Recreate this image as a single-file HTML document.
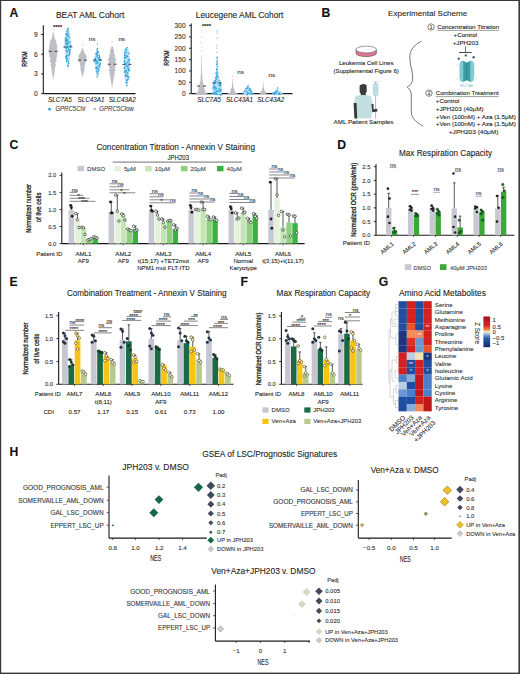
<!DOCTYPE html>
<html><head><meta charset="utf-8"><title>Figure</title>
<style>
html,body{margin:0;padding:0;background:#fff;}
body{width:520px;height:674px;overflow:hidden;}
svg{display:block;font-family:"Liberation Sans", sans-serif;}
</style></head><body>
<svg width="520" height="674" viewBox="0 0 520 674">
<rect width="520" height="674" fill="#fff"/>
<g fill="#231f20">
<rect x="0.00" y="0.00" width="520.00" height="1.00" fill="#3a3a3a"/>
<rect x="0.00" y="0.00" width="1.20" height="674.00" fill="#3a3a3a"/>
<rect x="518.40" y="0.00" width="1.60" height="674.00" fill="#3a3a3a"/>
<rect x="0.00" y="672.60" width="520.00" height="1.40" fill="#3a3a3a"/>
<text x="9.60" y="16.50" font-size="12.2" font-weight="bold" fill="#111" stroke="#111" stroke-width="0.1">A</text>
<text x="90.10" y="17.60" font-size="8.2" text-anchor="middle" textLength="68.4" lengthAdjust="spacingAndGlyphs" stroke="#231f20" stroke-width="0.1">BEAT AML Cohort</text>
<line x1="43.30" y1="25.30" x2="43.30" y2="93.60" stroke="#1a1a1a" stroke-width="1.1"/>
<line x1="41.10" y1="93.60" x2="43.30" y2="93.60" stroke="#1a1a1a" stroke-width="0.9"/>
<text x="37.70" y="95.98" font-size="6.6" text-anchor="end" fill="#333" stroke="#333" stroke-width="0.1">0</text>
<line x1="41.10" y1="73.90" x2="43.30" y2="73.90" stroke="#1a1a1a" stroke-width="0.9"/>
<text x="37.70" y="76.28" font-size="6.6" text-anchor="end" fill="#333" stroke="#333" stroke-width="0.1">3</text>
<line x1="41.10" y1="54.20" x2="43.30" y2="54.20" stroke="#1a1a1a" stroke-width="0.9"/>
<text x="37.70" y="56.58" font-size="6.6" text-anchor="end" fill="#333" stroke="#333" stroke-width="0.1">6</text>
<line x1="41.10" y1="34.50" x2="43.30" y2="34.50" stroke="#1a1a1a" stroke-width="0.9"/>
<text x="37.70" y="36.88" font-size="6.6" text-anchor="end" fill="#333" stroke="#333" stroke-width="0.1">9</text>
<line x1="43.30" y1="93.60" x2="135.50" y2="93.60" stroke="#1a1a1a" stroke-width="1.1"/>
<text x="27.40" y="59.00" font-size="7.6" text-anchor="middle" textLength="15.4" lengthAdjust="spacingAndGlyphs" stroke="#231f20" stroke-width="0.3" transform="rotate(-90 27.40 59.00)">RPKM</text>
<path d="M52.92 31.70L52.92 33.14L52.60 33.30L52.60 34.74L52.19 34.90L52.19 36.34L52.11 36.50L52.11 37.94L51.54 38.10L51.54 39.54L50.31 39.70L50.31 41.14L49.97 41.30L49.97 42.74L49.76 42.90L49.76 44.34L49.30 44.50L49.30 45.94L49.33 46.10L49.33 47.54L49.04 47.70L49.04 49.14L48.85 49.30L48.85 50.74L49.75 50.90L49.75 52.34L48.93 52.50L48.93 53.94L49.35 54.10L49.35 55.54L49.53 55.70L49.53 57.14L50.18 57.30L50.18 58.74L50.26 58.90L50.26 60.34L49.86 60.50L49.86 61.94L51.06 62.10L51.06 63.54L50.38 63.70L50.38 65.14L51.01 65.30L51.01 66.74L51.33 66.90L51.33 68.34L51.66 68.50L51.66 69.94L51.70 70.10L51.70 71.54L51.93 71.70L51.93 73.14L52.14 73.30L52.14 74.74L52.51 74.90L52.51 76.34L52.63 75.80L52.63 77.24L53.77 77.24L53.77 75.80L53.86 76.34L53.86 74.90L54.27 74.74L54.27 73.30L54.50 73.14L54.50 71.70L54.74 71.54L54.74 70.10L54.77 69.94L54.77 68.50L55.04 68.34L55.04 66.90L55.33 66.74L55.33 65.30L55.91 65.14L55.91 63.70L55.36 63.54L55.36 62.10L56.33 61.94L56.33 60.50L56.28 60.34L56.28 58.90L56.34 58.74L56.34 57.30L56.93 57.14L56.93 55.70L57.10 55.54L57.10 54.10L57.34 53.94L57.34 52.50L56.55 52.34L56.55 50.90L57.49 50.74L57.49 49.30L57.14 49.14L57.14 47.70L57.14 47.54L57.14 46.10L57.18 45.94L57.18 44.50L56.49 44.34L56.49 42.90L56.33 42.74L56.33 41.30L55.97 41.14L55.97 39.70L54.86 39.54L54.86 38.10L54.40 37.94L54.40 36.50L54.16 36.34L54.16 34.90L53.81 34.74L53.81 33.30L53.49 33.14L53.49 31.70Z" fill="#bebec6"/>
<circle cx="53.20" cy="29.50" r="0.6" fill="#b4b4bc"/>
<circle cx="53.20" cy="78.50" r="0.6" fill="#b4b4bc"/>
<line x1="48.70" y1="51.40" x2="57.70" y2="51.40" stroke="#333" stroke-width="0.9" stroke-dasharray="3 3"/>
<path d="M67.61 27.50L67.61 28.94L67.06 29.10L67.06 30.54L66.43 30.70L66.43 32.14L66.32 32.30L66.32 33.74L65.27 33.90L65.27 35.34L65.77 35.50L65.77 36.94L65.22 37.10L65.22 38.54L65.23 38.70L65.23 40.14L64.27 40.30L64.27 41.74L64.59 41.90L64.59 43.34L64.38 43.50L64.38 44.94L64.09 45.10L64.09 46.54L64.76 46.70L64.76 48.14L65.14 48.30L65.14 49.74L64.84 49.90L64.84 51.34L65.56 51.50L65.56 52.94L65.26 53.10L65.26 54.54L66.09 54.70L66.09 56.14L65.98 56.30L65.98 57.74L65.66 57.90L65.66 59.34L66.25 59.50L66.25 60.94L66.39 61.10L66.39 62.54L66.76 62.70L66.76 64.14L66.93 64.30L66.93 65.74L67.41 65.90L67.41 67.34L67.47 66.00L67.47 67.44L68.33 67.44L68.33 66.00L68.40 67.34L68.40 65.90L68.84 65.74L68.84 64.30L69.05 64.14L69.05 62.70L69.40 62.54L69.40 61.10L69.56 60.94L69.56 59.50L70.05 59.34L70.05 57.90L69.94 57.74L69.94 56.30L69.89 56.14L69.89 54.70L70.44 54.54L70.44 53.10L70.29 52.94L70.29 51.50L70.80 51.34L70.80 49.90L70.59 49.74L70.59 48.30L71.18 48.14L71.18 46.70L71.74 46.54L71.74 45.10L71.30 44.94L71.30 43.50L71.04 43.34L71.04 41.90L71.29 41.74L71.29 40.30L70.70 40.14L70.70 38.70L70.51 38.54L70.51 37.10L70.21 36.94L70.21 35.50L70.56 35.34L70.56 33.90L69.45 33.74L69.45 32.30L69.34 32.14L69.34 30.70L68.70 30.54L68.70 29.10L68.18 28.94L68.18 27.50Z" fill="#b8e0f5"/>
<circle cx="68.13" cy="28.33" r="0.8" fill="#2ea3dd"/>
<circle cx="67.17" cy="29.76" r="0.8" fill="#2ea3dd"/>
<circle cx="66.70" cy="31.69" r="0.8" fill="#2ea3dd"/>
<circle cx="68.23" cy="30.80" r="0.8" fill="#2ea3dd"/>
<circle cx="67.78" cy="33.39" r="0.8" fill="#2ea3dd"/>
<circle cx="67.39" cy="33.43" r="0.8" fill="#2ea3dd"/>
<circle cx="65.77" cy="34.00" r="0.8" fill="#2ea3dd"/>
<circle cx="68.68" cy="35.44" r="0.8" fill="#2ea3dd"/>
<circle cx="66.79" cy="34.63" r="0.8" fill="#2ea3dd"/>
<circle cx="66.96" cy="36.08" r="0.8" fill="#2ea3dd"/>
<circle cx="66.92" cy="36.09" r="0.8" fill="#2ea3dd"/>
<circle cx="68.40" cy="35.98" r="0.8" fill="#2ea3dd"/>
<circle cx="69.14" cy="35.50" r="0.5" fill="#e6f5fc"/>
<circle cx="65.29" cy="38.01" r="0.8" fill="#2ea3dd"/>
<circle cx="69.20" cy="37.60" r="0.8" fill="#2ea3dd"/>
<circle cx="66.37" cy="38.39" r="0.8" fill="#2ea3dd"/>
<circle cx="66.39" cy="37.10" r="0.5" fill="#e6f5fc"/>
<circle cx="67.52" cy="39.82" r="0.8" fill="#2ea3dd"/>
<circle cx="65.58" cy="39.22" r="0.8" fill="#2ea3dd"/>
<circle cx="66.93" cy="40.03" r="0.8" fill="#2ea3dd"/>
<circle cx="69.71" cy="38.70" r="0.5" fill="#e6f5fc"/>
<circle cx="65.88" cy="40.84" r="0.8" fill="#2ea3dd"/>
<circle cx="68.82" cy="41.72" r="0.8" fill="#2ea3dd"/>
<circle cx="67.60" cy="40.66" r="0.8" fill="#2ea3dd"/>
<circle cx="65.59" cy="41.15" r="0.8" fill="#2ea3dd"/>
<circle cx="69.54" cy="40.30" r="0.5" fill="#e6f5fc"/>
<circle cx="70.00" cy="42.19" r="0.8" fill="#2ea3dd"/>
<circle cx="66.53" cy="43.19" r="0.8" fill="#2ea3dd"/>
<circle cx="68.78" cy="43.19" r="0.8" fill="#2ea3dd"/>
<circle cx="66.94" cy="42.11" r="0.8" fill="#2ea3dd"/>
<circle cx="69.49" cy="41.90" r="0.5" fill="#e6f5fc"/>
<circle cx="66.46" cy="44.05" r="0.8" fill="#2ea3dd"/>
<circle cx="67.38" cy="44.17" r="0.8" fill="#2ea3dd"/>
<circle cx="67.33" cy="44.97" r="0.8" fill="#2ea3dd"/>
<circle cx="65.73" cy="43.51" r="0.8" fill="#2ea3dd"/>
<circle cx="70.33" cy="46.68" r="0.8" fill="#2ea3dd"/>
<circle cx="67.48" cy="46.62" r="0.8" fill="#2ea3dd"/>
<circle cx="70.63" cy="45.46" r="0.8" fill="#2ea3dd"/>
<circle cx="69.47" cy="46.44" r="0.8" fill="#2ea3dd"/>
<circle cx="68.02" cy="47.16" r="0.8" fill="#2ea3dd"/>
<circle cx="66.92" cy="47.06" r="0.8" fill="#2ea3dd"/>
<circle cx="65.23" cy="47.64" r="0.8" fill="#2ea3dd"/>
<circle cx="66.58" cy="48.00" r="0.8" fill="#2ea3dd"/>
<circle cx="70.08" cy="46.70" r="0.5" fill="#e6f5fc"/>
<circle cx="69.06" cy="49.78" r="0.8" fill="#2ea3dd"/>
<circle cx="70.27" cy="49.74" r="0.8" fill="#2ea3dd"/>
<circle cx="68.36" cy="48.32" r="0.8" fill="#2ea3dd"/>
<circle cx="66.01" cy="50.38" r="0.8" fill="#2ea3dd"/>
<circle cx="68.84" cy="50.74" r="0.8" fill="#2ea3dd"/>
<circle cx="67.40" cy="51.40" r="0.8" fill="#2ea3dd"/>
<circle cx="67.05" cy="51.90" r="0.8" fill="#2ea3dd"/>
<circle cx="69.84" cy="52.26" r="0.8" fill="#2ea3dd"/>
<circle cx="69.42" cy="52.06" r="0.8" fill="#2ea3dd"/>
<circle cx="68.06" cy="51.50" r="0.5" fill="#e6f5fc"/>
<circle cx="69.47" cy="53.37" r="0.8" fill="#2ea3dd"/>
<circle cx="69.35" cy="54.57" r="0.8" fill="#2ea3dd"/>
<circle cx="69.42" cy="54.42" r="0.8" fill="#2ea3dd"/>
<circle cx="68.46" cy="53.10" r="0.5" fill="#e6f5fc"/>
<circle cx="69.55" cy="54.78" r="0.8" fill="#2ea3dd"/>
<circle cx="66.86" cy="55.13" r="0.8" fill="#2ea3dd"/>
<circle cx="68.02" cy="55.38" r="0.8" fill="#2ea3dd"/>
<circle cx="69.00" cy="54.70" r="0.5" fill="#e6f5fc"/>
<circle cx="65.83" cy="56.39" r="0.8" fill="#2ea3dd"/>
<circle cx="66.35" cy="56.50" r="0.8" fill="#2ea3dd"/>
<circle cx="66.11" cy="57.86" r="0.8" fill="#2ea3dd"/>
<circle cx="66.35" cy="58.70" r="0.8" fill="#2ea3dd"/>
<circle cx="67.21" cy="58.40" r="0.8" fill="#2ea3dd"/>
<circle cx="68.38" cy="57.90" r="0.5" fill="#e6f5fc"/>
<circle cx="68.19" cy="60.08" r="0.8" fill="#2ea3dd"/>
<circle cx="66.87" cy="60.03" r="0.8" fill="#2ea3dd"/>
<circle cx="68.06" cy="59.50" r="0.5" fill="#e6f5fc"/>
<circle cx="68.50" cy="61.71" r="0.8" fill="#2ea3dd"/>
<circle cx="66.73" cy="61.39" r="0.8" fill="#2ea3dd"/>
<circle cx="68.15" cy="61.10" r="0.5" fill="#e6f5fc"/>
<circle cx="68.52" cy="63.31" r="0.8" fill="#2ea3dd"/>
<circle cx="68.56" cy="63.70" r="0.8" fill="#2ea3dd"/>
<circle cx="67.66" cy="62.70" r="0.5" fill="#e6f5fc"/>
<circle cx="67.89" cy="65.42" r="0.8" fill="#2ea3dd"/>
<circle cx="68.17" cy="64.30" r="0.5" fill="#e6f5fc"/>
<circle cx="67.86" cy="66.29" r="0.8" fill="#2ea3dd"/>
<circle cx="68.09" cy="66.11" r="0.8" fill="#2ea3dd"/>
<circle cx="67.84" cy="66.00" r="0.5" fill="#e6f5fc"/>
<line x1="63.40" y1="46.90" x2="72.40" y2="46.90" stroke="#333" stroke-width="0.9" stroke-dasharray="3 3"/>
<path d="M82.12 47.70L82.12 49.14L81.60 49.30L81.60 50.74L80.70 50.90L80.70 52.34L80.25 52.50L80.25 53.94L79.06 54.10L79.06 55.54L78.43 55.70L78.43 57.14L78.67 57.30L78.67 58.74L78.74 58.90L78.74 60.34L78.68 60.50L78.68 61.94L79.59 62.10L79.59 63.54L80.00 63.70L80.00 65.14L80.34 65.30L80.34 66.74L80.68 66.90L80.68 68.34L80.41 68.50L80.41 69.94L80.78 70.10L80.78 71.54L81.15 71.70L81.15 73.14L81.60 73.30L81.60 74.74L82.05 74.90L82.05 76.34L82.01 75.40L82.01 76.84L83.00 76.84L83.00 75.40L82.99 76.34L82.99 74.90L83.42 74.74L83.42 73.30L83.86 73.14L83.86 71.70L84.19 71.54L84.19 70.10L84.47 69.94L84.47 68.50L84.29 68.34L84.29 66.90L84.85 66.74L84.85 65.30L85.01 65.14L85.01 63.70L85.62 63.54L85.62 62.10L86.12 61.94L86.12 60.50L86.11 60.34L86.11 58.90L86.35 58.74L86.35 57.30L86.54 57.14L86.54 55.70L85.90 55.54L85.90 54.10L84.68 53.94L84.68 52.50L84.22 52.34L84.22 50.90L83.44 50.74L83.44 49.30L82.88 49.14L82.88 47.70Z" fill="#bebec6"/>
<circle cx="82.50" cy="44.80" r="0.6" fill="#b4b4bc"/>
<line x1="78.00" y1="60.10" x2="87.00" y2="60.10" stroke="#333" stroke-width="0.9" stroke-dasharray="3 3"/>
<path d="M97.24 48.30L97.24 49.74L96.19 49.90L96.19 51.34L95.86 51.50L95.86 52.94L94.85 53.10L94.85 54.54L95.10 54.70L95.10 56.14L94.34 56.30L94.34 57.74L94.55 57.90L94.55 59.34L94.45 59.50L94.45 60.94L94.51 61.10L94.51 62.54L94.59 62.70L94.59 64.14L94.91 64.30L94.91 65.74L95.47 65.90L95.47 67.34L95.11 67.50L95.11 68.94L95.64 69.10L95.64 70.54L95.89 70.70L95.89 72.14L96.52 72.30L96.52 73.74L96.56 73.90L96.56 75.34L96.99 75.50L96.99 76.94L97.05 76.00L97.05 77.44L97.93 77.44L97.93 76.00L98.01 76.94L98.01 75.50L98.45 75.34L98.45 73.90L98.48 73.74L98.48 72.30L99.15 72.14L99.15 70.70L99.35 70.54L99.35 69.10L99.87 68.94L99.87 67.50L99.65 67.34L99.65 65.90L100.17 65.74L100.17 64.30L100.54 64.14L100.54 62.70L100.39 62.54L100.39 61.10L100.54 60.94L100.54 59.50L100.44 59.34L100.44 57.90L100.70 57.74L100.70 56.30L99.91 56.14L99.91 54.70L100.03 54.54L100.03 53.10L99.18 52.94L99.18 51.50L98.73 51.34L98.73 49.90L97.78 49.74L97.78 48.30Z" fill="#b8e0f5"/>
<circle cx="97.35" cy="48.62" r="0.8" fill="#2ea3dd"/>
<circle cx="97.10" cy="50.27" r="0.8" fill="#2ea3dd"/>
<circle cx="97.91" cy="51.43" r="0.8" fill="#2ea3dd"/>
<circle cx="97.89" cy="49.90" r="0.5" fill="#e6f5fc"/>
<circle cx="97.19" cy="52.87" r="0.8" fill="#2ea3dd"/>
<circle cx="97.80" cy="51.93" r="0.8" fill="#2ea3dd"/>
<circle cx="96.03" cy="51.50" r="0.5" fill="#e6f5fc"/>
<circle cx="97.41" cy="53.71" r="0.8" fill="#2ea3dd"/>
<circle cx="96.01" cy="53.68" r="0.8" fill="#2ea3dd"/>
<circle cx="96.69" cy="54.34" r="0.8" fill="#2ea3dd"/>
<circle cx="99.45" cy="53.10" r="0.5" fill="#e6f5fc"/>
<circle cx="97.39" cy="55.66" r="0.8" fill="#2ea3dd"/>
<circle cx="97.32" cy="56.04" r="0.8" fill="#2ea3dd"/>
<circle cx="99.29" cy="55.59" r="0.8" fill="#2ea3dd"/>
<circle cx="98.58" cy="54.70" r="0.5" fill="#e6f5fc"/>
<circle cx="99.61" cy="56.94" r="0.8" fill="#2ea3dd"/>
<circle cx="98.88" cy="57.84" r="0.8" fill="#2ea3dd"/>
<circle cx="97.31" cy="56.67" r="0.8" fill="#2ea3dd"/>
<circle cx="98.63" cy="56.30" r="0.5" fill="#e6f5fc"/>
<circle cx="98.58" cy="59.43" r="0.8" fill="#2ea3dd"/>
<circle cx="99.67" cy="58.29" r="0.8" fill="#2ea3dd"/>
<circle cx="95.60" cy="58.31" r="0.8" fill="#2ea3dd"/>
<circle cx="95.58" cy="59.03" r="0.8" fill="#2ea3dd"/>
<circle cx="100.03" cy="59.91" r="0.8" fill="#2ea3dd"/>
<circle cx="99.81" cy="60.00" r="0.8" fill="#2ea3dd"/>
<circle cx="97.01" cy="60.67" r="0.8" fill="#2ea3dd"/>
<circle cx="94.88" cy="59.65" r="0.8" fill="#2ea3dd"/>
<circle cx="96.22" cy="61.67" r="0.8" fill="#2ea3dd"/>
<circle cx="97.99" cy="62.18" r="0.8" fill="#2ea3dd"/>
<circle cx="94.47" cy="61.64" r="0.8" fill="#2ea3dd"/>
<circle cx="97.11" cy="61.88" r="0.8" fill="#2ea3dd"/>
<circle cx="97.96" cy="61.10" r="0.5" fill="#e6f5fc"/>
<circle cx="100.12" cy="63.33" r="0.8" fill="#2ea3dd"/>
<circle cx="97.76" cy="62.89" r="0.8" fill="#2ea3dd"/>
<circle cx="96.20" cy="63.76" r="0.8" fill="#2ea3dd"/>
<circle cx="99.45" cy="62.70" r="0.5" fill="#e6f5fc"/>
<circle cx="99.68" cy="64.46" r="0.8" fill="#2ea3dd"/>
<circle cx="99.85" cy="64.90" r="0.8" fill="#2ea3dd"/>
<circle cx="98.95" cy="65.51" r="0.8" fill="#2ea3dd"/>
<circle cx="98.32" cy="64.30" r="0.5" fill="#e6f5fc"/>
<circle cx="98.24" cy="67.19" r="0.8" fill="#2ea3dd"/>
<circle cx="96.38" cy="67.11" r="0.8" fill="#2ea3dd"/>
<circle cx="99.70" cy="66.98" r="0.8" fill="#2ea3dd"/>
<circle cx="95.87" cy="68.29" r="0.8" fill="#2ea3dd"/>
<circle cx="96.88" cy="68.65" r="0.8" fill="#2ea3dd"/>
<circle cx="98.25" cy="68.41" r="0.8" fill="#2ea3dd"/>
<circle cx="98.04" cy="67.50" r="0.5" fill="#e6f5fc"/>
<circle cx="97.98" cy="69.39" r="0.8" fill="#2ea3dd"/>
<circle cx="98.92" cy="70.15" r="0.8" fill="#2ea3dd"/>
<circle cx="98.87" cy="69.10" r="0.5" fill="#e6f5fc"/>
<circle cx="96.43" cy="71.23" r="0.8" fill="#2ea3dd"/>
<circle cx="98.16" cy="71.66" r="0.8" fill="#2ea3dd"/>
<circle cx="97.84" cy="73.03" r="0.8" fill="#2ea3dd"/>
<circle cx="97.06" cy="72.58" r="0.8" fill="#2ea3dd"/>
<circle cx="97.94" cy="72.30" r="0.5" fill="#e6f5fc"/>
<circle cx="97.92" cy="74.77" r="0.8" fill="#2ea3dd"/>
<circle cx="97.36" cy="75.93" r="0.8" fill="#2ea3dd"/>
<circle cx="97.83" cy="75.50" r="0.5" fill="#e6f5fc"/>
<circle cx="97.13" cy="76.81" r="0.8" fill="#2ea3dd"/>
<circle cx="97.69" cy="76.00" r="0.5" fill="#e6f5fc"/>
<circle cx="97.50" cy="44.20" r="0.6" fill="#2ea3dd"/>
<line x1="93.00" y1="60.10" x2="102.00" y2="60.10" stroke="#333" stroke-width="0.9" stroke-dasharray="3 3"/>
<path d="M111.80 45.40L111.80 46.84L111.22 47.00L111.22 48.44L110.49 48.60L110.49 50.04L110.01 50.20L110.01 51.64L110.17 51.80L110.17 53.24L110.05 53.40L110.05 54.84L108.98 55.00L108.98 56.44L109.43 56.60L109.43 58.04L108.29 58.20L108.29 59.64L108.14 59.80L108.14 61.24L109.03 61.40L109.03 62.84L108.99 63.00L108.99 64.44L108.52 64.60L108.52 66.04L109.17 66.20L109.17 67.64L109.68 67.80L109.68 69.24L108.73 69.40L108.73 70.84L109.65 71.00L109.65 72.44L109.68 72.60L109.68 74.04L109.56 74.20L109.56 75.64L110.46 75.80L110.46 77.24L110.56 77.40L110.56 78.84L110.67 79.00L110.67 80.44L110.93 80.60L110.93 82.04L111.29 82.20L111.29 83.64L111.52 83.80L111.52 85.24L111.69 85.20L111.69 86.64L112.49 86.64L112.49 85.20L112.67 85.24L112.67 83.80L112.91 83.64L112.91 82.20L113.26 82.04L113.26 80.60L113.45 80.44L113.45 79.00L113.66 78.84L113.66 77.40L113.84 77.24L113.84 75.80L114.58 75.64L114.58 74.20L114.53 74.04L114.53 72.60L114.59 72.44L114.59 71.00L115.49 70.84L115.49 69.40L114.75 69.24L114.75 67.80L115.19 67.64L115.19 66.20L115.57 66.04L115.57 64.60L115.32 64.44L115.32 63.00L115.25 62.84L115.25 61.40L116.01 61.24L116.01 59.80L115.93 59.64L115.93 58.20L114.84 58.04L114.84 56.60L115.08 56.44L115.08 55.00L114.31 54.84L114.31 53.40L113.99 53.24L113.99 51.80L114.06 51.64L114.06 50.20L113.66 50.04L113.66 48.60L112.99 48.44L112.99 47.00L112.40 46.84L112.40 45.40Z" fill="#bebec6"/>
<circle cx="112.10" cy="41.90" r="0.6" fill="#b4b4bc"/>
<line x1="107.60" y1="64.20" x2="116.60" y2="64.20" stroke="#333" stroke-width="0.9" stroke-dasharray="3 3"/>
<path d="M126.58 46.50L126.58 47.94L125.57 48.10L125.57 49.54L124.43 49.70L124.43 51.14L125.06 51.30L125.06 52.74L124.34 52.90L124.34 54.34L124.46 54.50L124.46 55.94L124.73 56.10L124.73 57.54L123.58 57.70L123.58 59.14L123.60 59.30L123.60 60.74L124.55 60.90L124.55 62.34L123.93 62.50L123.93 63.94L123.78 64.10L123.78 65.54L124.27 65.70L124.27 67.14L123.55 67.30L123.55 68.74L124.26 68.90L124.26 70.34L124.27 70.50L124.27 71.94L124.87 72.10L124.87 73.54L124.83 73.70L124.83 75.14L124.67 75.30L124.67 76.74L124.80 76.90L124.80 78.34L124.94 78.50L124.94 79.94L125.47 80.10L125.47 81.54L125.87 81.70L125.87 83.14L126.06 83.30L126.06 84.74L126.52 84.60L126.52 86.04L127.28 86.04L127.28 84.60L127.73 84.74L127.73 83.30L127.91 83.14L127.91 81.70L128.37 81.54L128.37 80.10L128.80 79.94L128.80 78.50L128.98 78.34L128.98 76.90L129.18 76.74L129.18 75.30L128.96 75.14L128.96 73.70L128.94 73.54L128.94 72.10L129.44 71.94L129.44 70.50L129.62 70.34L129.62 68.90L130.23 68.74L130.23 67.30L129.65 67.14L129.65 65.70L130.03 65.54L130.03 64.10L129.96 63.94L129.96 62.50L129.44 62.34L129.44 60.90L130.15 60.74L130.15 59.30L130.06 59.14L130.06 57.70L129.19 57.54L129.19 56.10L129.31 55.94L129.31 54.50L129.33 54.34L129.33 52.90L128.88 52.74L128.88 51.30L129.35 51.14L129.35 49.70L128.24 49.54L128.24 48.10L127.23 47.94L127.23 46.50Z" fill="#b8e0f5"/>
<circle cx="126.92" cy="47.45" r="0.8" fill="#2ea3dd"/>
<circle cx="126.62" cy="46.50" r="0.5" fill="#e6f5fc"/>
<circle cx="126.12" cy="49.35" r="0.8" fill="#2ea3dd"/>
<circle cx="125.94" cy="48.84" r="0.8" fill="#2ea3dd"/>
<circle cx="126.22" cy="48.10" r="0.5" fill="#e6f5fc"/>
<circle cx="125.58" cy="50.35" r="0.8" fill="#2ea3dd"/>
<circle cx="125.57" cy="49.74" r="0.8" fill="#2ea3dd"/>
<circle cx="125.34" cy="49.97" r="0.8" fill="#2ea3dd"/>
<circle cx="125.36" cy="49.70" r="0.5" fill="#e6f5fc"/>
<circle cx="124.80" cy="52.02" r="0.8" fill="#2ea3dd"/>
<circle cx="126.49" cy="52.43" r="0.8" fill="#2ea3dd"/>
<circle cx="124.93" cy="51.95" r="0.8" fill="#2ea3dd"/>
<circle cx="125.08" cy="51.30" r="0.5" fill="#e6f5fc"/>
<circle cx="129.12" cy="53.25" r="0.8" fill="#2ea3dd"/>
<circle cx="124.96" cy="53.66" r="0.8" fill="#2ea3dd"/>
<circle cx="125.30" cy="53.90" r="0.8" fill="#2ea3dd"/>
<circle cx="125.33" cy="52.90" r="0.5" fill="#e6f5fc"/>
<circle cx="124.59" cy="55.66" r="0.8" fill="#2ea3dd"/>
<circle cx="125.74" cy="55.76" r="0.8" fill="#2ea3dd"/>
<circle cx="126.72" cy="55.99" r="0.8" fill="#2ea3dd"/>
<circle cx="125.77" cy="54.50" r="0.5" fill="#e6f5fc"/>
<circle cx="125.65" cy="57.40" r="0.8" fill="#2ea3dd"/>
<circle cx="127.59" cy="56.65" r="0.8" fill="#2ea3dd"/>
<circle cx="124.73" cy="57.19" r="0.8" fill="#2ea3dd"/>
<circle cx="127.40" cy="57.71" r="0.8" fill="#2ea3dd"/>
<circle cx="124.34" cy="57.84" r="0.8" fill="#2ea3dd"/>
<circle cx="125.10" cy="57.76" r="0.8" fill="#2ea3dd"/>
<circle cx="127.64" cy="57.70" r="0.5" fill="#e6f5fc"/>
<circle cx="129.12" cy="59.62" r="0.8" fill="#2ea3dd"/>
<circle cx="129.53" cy="60.06" r="0.8" fill="#2ea3dd"/>
<circle cx="128.59" cy="60.77" r="0.8" fill="#2ea3dd"/>
<circle cx="124.29" cy="61.39" r="0.8" fill="#2ea3dd"/>
<circle cx="127.50" cy="62.41" r="0.8" fill="#2ea3dd"/>
<circle cx="124.59" cy="61.37" r="0.8" fill="#2ea3dd"/>
<circle cx="124.74" cy="63.12" r="0.8" fill="#2ea3dd"/>
<circle cx="125.97" cy="63.59" r="0.8" fill="#2ea3dd"/>
<circle cx="129.30" cy="62.78" r="0.8" fill="#2ea3dd"/>
<circle cx="128.21" cy="65.44" r="0.8" fill="#2ea3dd"/>
<circle cx="127.20" cy="65.58" r="0.8" fill="#2ea3dd"/>
<circle cx="126.13" cy="64.76" r="0.8" fill="#2ea3dd"/>
<circle cx="128.27" cy="64.10" r="0.5" fill="#e6f5fc"/>
<circle cx="126.79" cy="66.13" r="0.8" fill="#2ea3dd"/>
<circle cx="125.05" cy="66.85" r="0.8" fill="#2ea3dd"/>
<circle cx="127.49" cy="66.84" r="0.8" fill="#2ea3dd"/>
<circle cx="126.84" cy="65.70" r="0.5" fill="#e6f5fc"/>
<circle cx="125.00" cy="68.44" r="0.8" fill="#2ea3dd"/>
<circle cx="124.28" cy="68.05" r="0.8" fill="#2ea3dd"/>
<circle cx="128.32" cy="68.38" r="0.8" fill="#2ea3dd"/>
<circle cx="125.64" cy="67.30" r="0.5" fill="#e6f5fc"/>
<circle cx="128.74" cy="69.93" r="0.8" fill="#2ea3dd"/>
<circle cx="128.93" cy="70.30" r="0.8" fill="#2ea3dd"/>
<circle cx="126.63" cy="70.34" r="0.8" fill="#2ea3dd"/>
<circle cx="126.03" cy="71.09" r="0.8" fill="#2ea3dd"/>
<circle cx="124.66" cy="71.14" r="0.8" fill="#2ea3dd"/>
<circle cx="129.29" cy="70.67" r="0.8" fill="#2ea3dd"/>
<circle cx="124.91" cy="72.23" r="0.8" fill="#2ea3dd"/>
<circle cx="127.66" cy="72.49" r="0.8" fill="#2ea3dd"/>
<circle cx="124.60" cy="72.34" r="0.8" fill="#2ea3dd"/>
<circle cx="127.31" cy="73.72" r="0.8" fill="#2ea3dd"/>
<circle cx="125.62" cy="75.25" r="0.8" fill="#2ea3dd"/>
<circle cx="125.57" cy="74.60" r="0.8" fill="#2ea3dd"/>
<circle cx="128.07" cy="73.70" r="0.5" fill="#e6f5fc"/>
<circle cx="127.36" cy="76.56" r="0.8" fill="#2ea3dd"/>
<circle cx="127.06" cy="75.60" r="0.8" fill="#2ea3dd"/>
<circle cx="125.48" cy="75.43" r="0.8" fill="#2ea3dd"/>
<circle cx="125.32" cy="76.94" r="0.8" fill="#2ea3dd"/>
<circle cx="128.80" cy="77.22" r="0.8" fill="#2ea3dd"/>
<circle cx="128.50" cy="77.04" r="0.8" fill="#2ea3dd"/>
<circle cx="125.91" cy="76.90" r="0.5" fill="#e6f5fc"/>
<circle cx="128.09" cy="79.48" r="0.8" fill="#2ea3dd"/>
<circle cx="127.41" cy="79.72" r="0.8" fill="#2ea3dd"/>
<circle cx="126.46" cy="81.06" r="0.8" fill="#2ea3dd"/>
<circle cx="126.74" cy="80.28" r="0.8" fill="#2ea3dd"/>
<circle cx="127.10" cy="83.00" r="0.8" fill="#2ea3dd"/>
<circle cx="126.27" cy="82.56" r="0.8" fill="#2ea3dd"/>
<circle cx="127.33" cy="81.70" r="0.5" fill="#e6f5fc"/>
<circle cx="126.31" cy="83.85" r="0.8" fill="#2ea3dd"/>
<circle cx="126.38" cy="83.30" r="0.5" fill="#e6f5fc"/>
<circle cx="126.94" cy="85.78" r="0.8" fill="#2ea3dd"/>
<circle cx="127.00" cy="84.60" r="0.5" fill="#e6f5fc"/>
<line x1="122.40" y1="64.40" x2="131.40" y2="64.40" stroke="#333" stroke-width="0.9" stroke-dasharray="3 3"/>
<text x="57.50" y="28.60" font-size="6.2" text-anchor="middle" font-weight="bold" textLength="9" lengthAdjust="spacingAndGlyphs" stroke="#231f20" stroke-width="0.1">****</text>
<text x="92.00" y="40.60" font-size="6.2" text-anchor="middle" fill="#333" stroke="#333" stroke-width="0.1">ns</text>
<text x="121.70" y="40.60" font-size="6.2" text-anchor="middle" fill="#333" stroke="#333" stroke-width="0.1">ns</text>
<text x="48.10" y="102.00" font-size="6.4" font-style="italic" textLength="23.6" lengthAdjust="spacingAndGlyphs" stroke="#231f20" stroke-width="0.1">SLC7A5</text>
<text x="77.50" y="102.00" font-size="6.4" font-style="italic" textLength="26.9" lengthAdjust="spacingAndGlyphs" stroke="#231f20" stroke-width="0.1">SLC43A1</text>
<text x="108.80" y="102.00" font-size="6.4" font-style="italic" textLength="27.0" lengthAdjust="spacingAndGlyphs" stroke="#231f20" stroke-width="0.1">SLC43A2</text>
<circle cx="49.60" cy="109.20" r="1.4" fill="#2ea3dd"/>
<text x="55.40" y="110.90" font-size="6.3" font-style="italic" fill="#444" textLength="29.8" lengthAdjust="spacingAndGlyphs" stroke="#444" stroke-width="0.1">GPRC5Chi</text>
<circle cx="94.80" cy="109.20" r="1.4" fill="#bebec6"/>
<text x="99.20" y="110.90" font-size="6.3" font-style="italic" fill="#444" textLength="34.6" lengthAdjust="spacingAndGlyphs" stroke="#444" stroke-width="0.1">GPRC5Clow</text>
<text x="239.60" y="17.60" font-size="8.2" text-anchor="middle" textLength="87.7" lengthAdjust="spacingAndGlyphs" stroke="#231f20" stroke-width="0.1">Leucegene AML Cohort</text>
<line x1="191.20" y1="23.50" x2="191.20" y2="93.60" stroke="#1a1a1a" stroke-width="1.1"/>
<line x1="189.00" y1="93.60" x2="191.20" y2="93.60" stroke="#1a1a1a" stroke-width="0.9"/>
<text x="185.60" y="95.98" font-size="6.6" text-anchor="end" fill="#333" stroke="#333" stroke-width="0.1">0</text>
<line x1="189.00" y1="82.27" x2="191.20" y2="82.27" stroke="#1a1a1a" stroke-width="0.9"/>
<text x="185.60" y="84.64" font-size="6.6" text-anchor="end" fill="#333" stroke="#333" stroke-width="0.1">50</text>
<line x1="189.00" y1="70.93" x2="191.20" y2="70.93" stroke="#1a1a1a" stroke-width="0.9"/>
<text x="185.60" y="73.31" font-size="6.6" text-anchor="end" fill="#333" stroke="#333" stroke-width="0.1">100</text>
<line x1="189.00" y1="59.60" x2="191.20" y2="59.60" stroke="#1a1a1a" stroke-width="0.9"/>
<text x="185.60" y="61.98" font-size="6.6" text-anchor="end" fill="#333" stroke="#333" stroke-width="0.1">150</text>
<line x1="189.00" y1="48.27" x2="191.20" y2="48.27" stroke="#1a1a1a" stroke-width="0.9"/>
<text x="185.60" y="50.64" font-size="6.6" text-anchor="end" fill="#333" stroke="#333" stroke-width="0.1">200</text>
<line x1="189.00" y1="36.93" x2="191.20" y2="36.93" stroke="#1a1a1a" stroke-width="0.9"/>
<text x="185.60" y="39.31" font-size="6.6" text-anchor="end" fill="#333" stroke="#333" stroke-width="0.1">250</text>
<line x1="189.00" y1="25.60" x2="191.20" y2="25.60" stroke="#1a1a1a" stroke-width="0.9"/>
<text x="185.60" y="27.98" font-size="6.6" text-anchor="end" fill="#333" stroke="#333" stroke-width="0.1">300</text>
<line x1="191.20" y1="93.60" x2="292.50" y2="93.60" stroke="#1a1a1a" stroke-width="1.1"/>
<text x="168.60" y="58.00" font-size="7.6" text-anchor="middle" textLength="15.4" lengthAdjust="spacingAndGlyphs" stroke="#231f20" stroke-width="0.3" transform="rotate(-90 168.60 58.00)">RPKM</text>
<path d="M201.24 55.70L201.24 57.14L201.26 57.30L201.26 58.74L201.25 58.90L201.25 60.34L201.27 60.50L201.27 61.94L201.25 62.10L201.25 63.54L201.15 63.70L201.15 65.14L201.09 65.30L201.09 66.74L201.06 66.90L201.06 68.34L201.11 68.50L201.11 69.94L200.97 70.10L200.97 71.54L201.02 71.70L201.02 73.14L200.95 73.30L200.95 74.74L200.69 74.90L200.69 76.34L200.56 76.50L200.56 77.94L200.73 78.10L200.73 79.54L200.45 79.70L200.45 81.14L200.04 81.30L200.04 82.74L199.60 82.90L199.60 84.34L199.43 84.50L199.43 85.94L198.58 86.10L198.58 87.54L198.67 87.70L198.67 89.14L198.12 89.30L198.12 90.74L198.02 90.90L198.02 92.34L196.11 92.50L196.11 93.94L195.36 93.30L195.36 94.74L207.65 94.74L207.65 93.30L206.86 93.94L206.86 92.50L205.01 92.34L205.01 90.90L204.92 90.74L204.92 89.30L204.27 89.14L204.27 87.70L204.42 87.54L204.42 86.10L203.55 85.94L203.55 84.50L203.32 84.34L203.32 82.90L202.88 82.74L202.88 81.30L202.57 81.14L202.57 79.70L202.33 79.54L202.33 78.10L202.38 77.94L202.38 76.50L202.27 76.34L202.27 74.90L202.08 74.74L202.08 73.30L201.99 73.14L201.99 71.70L202.03 71.54L202.03 70.10L201.91 69.94L201.91 68.50L201.93 68.34L201.93 66.90L201.89 66.74L201.89 65.30L201.85 65.14L201.85 63.70L201.77 63.54L201.77 62.10L201.73 61.94L201.73 60.50L201.75 60.34L201.75 58.90L201.75 58.74L201.75 57.30L201.75 57.14L201.75 55.70Z" fill="#bebec6"/>
<circle cx="201.50" cy="30.00" r="0.6" fill="#b4b4bc"/>
<circle cx="201.50" cy="37.00" r="0.6" fill="#b4b4bc"/>
<circle cx="201.00" cy="42.00" r="0.6" fill="#b4b4bc"/>
<circle cx="201.90" cy="47.00" r="0.6" fill="#b4b4bc"/>
<circle cx="201.50" cy="51.00" r="0.6" fill="#b4b4bc"/>
<line x1="197.00" y1="86.00" x2="206.00" y2="86.00" stroke="#333" stroke-width="0.9" stroke-dasharray="3 3"/>
<path d="M216.71 56.40L216.71 57.84L216.76 58.00L216.76 59.44L216.67 59.60L216.67 61.04L216.61 61.20L216.61 62.64L216.49 62.80L216.49 64.24L216.51 64.40L216.51 65.84L216.35 66.00L216.35 67.44L216.44 67.60L216.44 69.04L216.43 69.20L216.43 70.64L216.11 70.80L216.11 72.24L216.14 72.40L216.14 73.84L215.95 74.00L215.95 75.44L215.61 75.60L215.61 77.04L214.83 77.20L214.83 78.64L215.03 78.80L215.03 80.24L214.65 80.40L214.65 81.84L213.71 82.00L213.71 83.44L213.09 83.60L213.09 85.04L213.28 85.20L213.28 86.64L212.15 86.80L212.15 88.24L213.17 88.40L213.17 89.84L212.76 90.00L212.76 91.44L212.17 91.60L212.17 93.04L211.81 93.20L211.81 94.64L213.24 93.30L213.24 94.74L221.03 94.74L221.03 93.30L221.95 94.64L221.95 93.20L221.93 93.04L221.93 91.60L221.33 91.44L221.33 90.00L220.75 89.84L220.75 88.40L221.70 88.24L221.70 86.80L220.70 86.64L220.70 85.20L220.74 85.04L220.74 83.60L220.20 83.44L220.20 82.00L219.47 81.84L219.47 80.40L219.00 80.24L219.00 78.80L219.20 78.64L219.20 77.20L218.45 77.04L218.45 75.60L218.11 75.44L218.11 74.00L217.85 73.84L217.85 72.40L217.89 72.24L217.89 70.80L217.58 70.64L217.58 69.20L217.59 69.04L217.59 67.60L217.62 67.44L217.62 66.00L217.51 65.84L217.51 64.40L217.49 64.24L217.49 62.80L217.38 62.64L217.38 61.20L217.33 61.04L217.33 59.60L217.25 59.44L217.25 58.00L217.27 57.84L217.27 56.40Z" fill="#b8e0f5"/>
<circle cx="217.14" cy="57.21" r="0.8" fill="#2ea3dd"/>
<circle cx="217.03" cy="58.45" r="0.8" fill="#2ea3dd"/>
<circle cx="216.76" cy="58.00" r="0.5" fill="#e6f5fc"/>
<circle cx="217.09" cy="61.04" r="0.8" fill="#2ea3dd"/>
<circle cx="216.98" cy="62.26" r="0.8" fill="#2ea3dd"/>
<circle cx="217.27" cy="63.76" r="0.8" fill="#2ea3dd"/>
<circle cx="217.01" cy="62.80" r="0.5" fill="#e6f5fc"/>
<circle cx="216.67" cy="64.69" r="0.8" fill="#2ea3dd"/>
<circle cx="217.55" cy="66.88" r="0.8" fill="#2ea3dd"/>
<circle cx="216.85" cy="66.00" r="0.5" fill="#e6f5fc"/>
<circle cx="216.94" cy="68.88" r="0.8" fill="#2ea3dd"/>
<circle cx="217.50" cy="67.60" r="0.5" fill="#e6f5fc"/>
<circle cx="216.49" cy="69.70" r="0.8" fill="#2ea3dd"/>
<circle cx="216.85" cy="72.16" r="0.8" fill="#2ea3dd"/>
<circle cx="217.87" cy="73.38" r="0.8" fill="#2ea3dd"/>
<circle cx="216.05" cy="73.32" r="0.8" fill="#2ea3dd"/>
<circle cx="216.97" cy="74.45" r="0.8" fill="#2ea3dd"/>
<circle cx="217.50" cy="75.46" r="0.8" fill="#2ea3dd"/>
<circle cx="217.35" cy="74.00" r="0.5" fill="#e6f5fc"/>
<circle cx="216.64" cy="76.42" r="0.8" fill="#2ea3dd"/>
<circle cx="218.10" cy="77.14" r="0.8" fill="#2ea3dd"/>
<circle cx="215.85" cy="78.67" r="0.8" fill="#2ea3dd"/>
<circle cx="215.80" cy="77.81" r="0.8" fill="#2ea3dd"/>
<circle cx="216.09" cy="79.23" r="0.8" fill="#2ea3dd"/>
<circle cx="219.24" cy="80.31" r="0.8" fill="#2ea3dd"/>
<circle cx="216.09" cy="79.43" r="0.8" fill="#2ea3dd"/>
<circle cx="215.40" cy="78.80" r="0.5" fill="#e6f5fc"/>
<circle cx="215.50" cy="81.97" r="0.8" fill="#2ea3dd"/>
<circle cx="214.47" cy="80.77" r="0.8" fill="#2ea3dd"/>
<circle cx="215.20" cy="80.53" r="0.8" fill="#2ea3dd"/>
<circle cx="217.16" cy="81.59" r="0.8" fill="#2ea3dd"/>
<circle cx="217.92" cy="83.31" r="0.8" fill="#2ea3dd"/>
<circle cx="213.52" cy="82.45" r="0.8" fill="#2ea3dd"/>
<circle cx="220.25" cy="82.11" r="0.8" fill="#2ea3dd"/>
<circle cx="215.36" cy="82.77" r="0.8" fill="#2ea3dd"/>
<circle cx="217.28" cy="82.00" r="0.5" fill="#e6f5fc"/>
<circle cx="213.58" cy="83.98" r="0.8" fill="#2ea3dd"/>
<circle cx="220.46" cy="83.83" r="0.8" fill="#2ea3dd"/>
<circle cx="220.06" cy="83.88" r="0.8" fill="#2ea3dd"/>
<circle cx="220.72" cy="84.68" r="0.8" fill="#2ea3dd"/>
<circle cx="214.11" cy="85.29" r="0.8" fill="#2ea3dd"/>
<circle cx="219.09" cy="85.48" r="0.8" fill="#2ea3dd"/>
<circle cx="214.50" cy="86.52" r="0.8" fill="#2ea3dd"/>
<circle cx="220.02" cy="85.28" r="0.8" fill="#2ea3dd"/>
<circle cx="220.72" cy="86.06" r="0.8" fill="#2ea3dd"/>
<circle cx="214.23" cy="85.20" r="0.5" fill="#e6f5fc"/>
<circle cx="216.08" cy="88.38" r="0.8" fill="#2ea3dd"/>
<circle cx="215.16" cy="87.01" r="0.8" fill="#2ea3dd"/>
<circle cx="214.02" cy="87.00" r="0.8" fill="#2ea3dd"/>
<circle cx="215.76" cy="88.26" r="0.8" fill="#2ea3dd"/>
<circle cx="213.45" cy="87.11" r="0.8" fill="#2ea3dd"/>
<circle cx="221.24" cy="89.97" r="0.8" fill="#2ea3dd"/>
<circle cx="214.83" cy="88.97" r="0.8" fill="#2ea3dd"/>
<circle cx="220.85" cy="89.18" r="0.8" fill="#2ea3dd"/>
<circle cx="218.74" cy="88.90" r="0.8" fill="#2ea3dd"/>
<circle cx="212.92" cy="88.95" r="0.8" fill="#2ea3dd"/>
<circle cx="219.44" cy="90.91" r="0.8" fill="#2ea3dd"/>
<circle cx="216.69" cy="90.86" r="0.8" fill="#2ea3dd"/>
<circle cx="216.50" cy="90.86" r="0.8" fill="#2ea3dd"/>
<circle cx="219.89" cy="90.32" r="0.8" fill="#2ea3dd"/>
<circle cx="217.82" cy="91.49" r="0.8" fill="#2ea3dd"/>
<circle cx="214.18" cy="93.14" r="0.8" fill="#2ea3dd"/>
<circle cx="220.00" cy="91.87" r="0.8" fill="#2ea3dd"/>
<circle cx="214.94" cy="91.92" r="0.8" fill="#2ea3dd"/>
<circle cx="213.06" cy="93.17" r="0.8" fill="#2ea3dd"/>
<circle cx="216.20" cy="93.00" r="0.8" fill="#2ea3dd"/>
<circle cx="213.25" cy="91.60" r="0.5" fill="#e6f5fc"/>
<circle cx="220.31" cy="94.47" r="0.8" fill="#2ea3dd"/>
<circle cx="221.40" cy="94.30" r="0.8" fill="#2ea3dd"/>
<circle cx="217.23" cy="94.43" r="0.8" fill="#2ea3dd"/>
<circle cx="213.35" cy="94.06" r="0.8" fill="#2ea3dd"/>
<circle cx="216.47" cy="93.43" r="0.8" fill="#2ea3dd"/>
<circle cx="215.42" cy="94.11" r="0.8" fill="#2ea3dd"/>
<circle cx="215.87" cy="93.81" r="0.8" fill="#2ea3dd"/>
<circle cx="215.73" cy="94.26" r="0.8" fill="#2ea3dd"/>
<circle cx="221.31" cy="94.80" r="0.8" fill="#2ea3dd"/>
<circle cx="220.25" cy="94.64" r="0.8" fill="#2ea3dd"/>
<circle cx="220.74" cy="93.30" r="0.5" fill="#e6f5fc"/>
<circle cx="217.00" cy="30.80" r="0.6" fill="#2ea3dd"/>
<circle cx="217.00" cy="33.00" r="0.6" fill="#2ea3dd"/>
<circle cx="217.20" cy="38.00" r="0.6" fill="#2ea3dd"/>
<circle cx="217.00" cy="45.00" r="0.6" fill="#2ea3dd"/>
<circle cx="216.70" cy="48.00" r="0.6" fill="#2ea3dd"/>
<circle cx="217.00" cy="52.00" r="0.6" fill="#2ea3dd"/>
<line x1="212.50" y1="82.90" x2="221.50" y2="82.90" stroke="#333" stroke-width="0.9" stroke-dasharray="3 3"/>
<path d="M232.38 78.60L232.38 80.04L232.28 80.20L232.28 81.64L232.24 81.80L232.24 83.24L232.19 83.40L232.19 84.84L231.97 85.00L231.97 86.44L231.68 86.60L231.68 88.04L231.08 88.20L231.08 89.64L230.59 89.80L230.59 91.24L230.08 91.40L230.08 92.84L227.64 93.00L227.64 94.44L229.07 93.30L229.07 94.74L236.47 94.74L236.47 93.30L237.54 94.44L237.54 93.00L235.23 92.84L235.23 91.40L234.64 91.24L234.64 89.80L234.07 89.64L234.07 88.20L233.55 88.04L233.55 86.60L233.24 86.44L233.24 85.00L233.04 84.84L233.04 83.40L232.97 83.24L232.97 81.80L232.92 81.64L232.92 80.20L232.81 80.04L232.81 78.60Z" fill="#bebec6"/>
<circle cx="232.60" cy="76.00" r="0.6" fill="#b4b4bc"/>
<path d="M247.69 84.60L247.69 86.04L246.99 86.20L246.99 87.64L245.68 87.80L245.68 89.24L244.73 89.40L244.73 90.84L243.25 91.00L243.25 92.44L243.49 92.60L243.49 94.04L243.14 93.30L243.14 94.74L252.85 94.74L252.85 93.30L252.60 94.04L252.60 92.60L252.61 92.44L252.61 91.00L251.41 90.84L251.41 89.40L250.39 89.24L250.39 87.80L248.99 87.64L248.99 86.20L248.32 86.04L248.32 84.60Z" fill="#b8e0f5"/>
<circle cx="248.10" cy="86.00" r="0.8" fill="#2ea3dd"/>
<circle cx="247.25" cy="86.55" r="0.8" fill="#2ea3dd"/>
<circle cx="247.73" cy="87.18" r="0.8" fill="#2ea3dd"/>
<circle cx="247.22" cy="86.20" r="0.5" fill="#e6f5fc"/>
<circle cx="247.20" cy="88.25" r="0.8" fill="#2ea3dd"/>
<circle cx="245.89" cy="88.66" r="0.8" fill="#2ea3dd"/>
<circle cx="249.89" cy="88.65" r="0.8" fill="#2ea3dd"/>
<circle cx="250.19" cy="90.74" r="0.8" fill="#2ea3dd"/>
<circle cx="250.76" cy="90.11" r="0.8" fill="#2ea3dd"/>
<circle cx="249.22" cy="89.59" r="0.8" fill="#2ea3dd"/>
<circle cx="250.54" cy="90.01" r="0.8" fill="#2ea3dd"/>
<circle cx="250.28" cy="89.40" r="0.5" fill="#e6f5fc"/>
<circle cx="246.18" cy="91.30" r="0.8" fill="#2ea3dd"/>
<circle cx="250.76" cy="91.96" r="0.8" fill="#2ea3dd"/>
<circle cx="244.46" cy="91.04" r="0.8" fill="#2ea3dd"/>
<circle cx="246.73" cy="91.01" r="0.8" fill="#2ea3dd"/>
<circle cx="250.84" cy="91.29" r="0.8" fill="#2ea3dd"/>
<circle cx="247.17" cy="91.00" r="0.5" fill="#e6f5fc"/>
<circle cx="248.12" cy="93.29" r="0.8" fill="#2ea3dd"/>
<circle cx="249.26" cy="93.66" r="0.8" fill="#2ea3dd"/>
<circle cx="247.37" cy="92.76" r="0.8" fill="#2ea3dd"/>
<circle cx="252.71" cy="93.71" r="0.8" fill="#2ea3dd"/>
<circle cx="243.91" cy="93.31" r="0.8" fill="#2ea3dd"/>
<circle cx="252.96" cy="93.41" r="0.8" fill="#2ea3dd"/>
<circle cx="243.06" cy="94.07" r="0.8" fill="#2ea3dd"/>
<circle cx="247.21" cy="94.73" r="0.8" fill="#2ea3dd"/>
<circle cx="251.29" cy="93.83" r="0.8" fill="#2ea3dd"/>
<circle cx="247.18" cy="94.23" r="0.8" fill="#2ea3dd"/>
<circle cx="251.87" cy="93.62" r="0.8" fill="#2ea3dd"/>
<circle cx="244.37" cy="93.30" r="0.5" fill="#e6f5fc"/>
<path d="M262.94 81.60L262.94 83.04L262.84 83.20L262.84 84.64L262.83 84.80L262.83 86.24L262.78 86.40L262.78 87.84L262.29 88.00L262.29 89.44L261.98 89.60L261.98 91.04L260.62 91.20L260.62 92.64L260.28 92.80L260.28 94.24L258.87 93.30L258.87 94.74L267.27 94.74L267.27 93.30L266.15 94.24L266.15 92.80L265.75 92.64L265.75 91.20L264.51 91.04L264.51 89.60L264.09 89.44L264.09 88.00L263.63 87.84L263.63 86.40L263.56 86.24L263.56 84.80L263.55 84.64L263.55 83.20L263.45 83.04L263.45 81.60Z" fill="#bebec6"/>
<path d="M277.37 87.70L277.37 89.14L276.86 89.30L276.86 90.74L274.47 90.90L274.47 92.34L272.06 92.50L272.06 93.94L273.01 93.30L273.01 94.74L282.60 94.74L282.60 93.30L283.08 93.94L283.08 92.50L280.92 92.34L280.92 90.90L278.57 90.74L278.57 89.30L278.03 89.14L278.03 87.70Z" fill="#b8e0f5"/>
<circle cx="277.58" cy="88.01" r="0.8" fill="#2ea3dd"/>
<circle cx="277.20" cy="90.62" r="0.8" fill="#2ea3dd"/>
<circle cx="275.66" cy="92.36" r="0.8" fill="#2ea3dd"/>
<circle cx="277.15" cy="91.24" r="0.8" fill="#2ea3dd"/>
<circle cx="276.02" cy="90.96" r="0.8" fill="#2ea3dd"/>
<circle cx="277.16" cy="90.90" r="0.5" fill="#e6f5fc"/>
<circle cx="281.22" cy="93.83" r="0.8" fill="#2ea3dd"/>
<circle cx="273.26" cy="93.14" r="0.8" fill="#2ea3dd"/>
<circle cx="276.59" cy="92.78" r="0.8" fill="#2ea3dd"/>
<circle cx="275.20" cy="92.92" r="0.8" fill="#2ea3dd"/>
<circle cx="279.64" cy="93.04" r="0.8" fill="#2ea3dd"/>
<circle cx="273.81" cy="92.85" r="0.8" fill="#2ea3dd"/>
<circle cx="278.27" cy="92.50" r="0.5" fill="#e6f5fc"/>
<circle cx="274.73" cy="94.42" r="0.8" fill="#2ea3dd"/>
<circle cx="274.38" cy="94.37" r="0.8" fill="#2ea3dd"/>
<circle cx="278.98" cy="93.58" r="0.8" fill="#2ea3dd"/>
<circle cx="280.63" cy="93.93" r="0.8" fill="#2ea3dd"/>
<circle cx="278.16" cy="94.26" r="0.8" fill="#2ea3dd"/>
<circle cx="279.20" cy="94.01" r="0.8" fill="#2ea3dd"/>
<circle cx="280.63" cy="93.30" r="0.5" fill="#e6f5fc"/>
<text x="206.60" y="27.60" font-size="6.2" text-anchor="middle" font-weight="bold" textLength="9" lengthAdjust="spacingAndGlyphs" stroke="#231f20" stroke-width="0.1">****</text>
<text x="240.50" y="74.00" font-size="6.2" text-anchor="middle" fill="#333" stroke="#333" stroke-width="0.1">ns</text>
<text x="271.80" y="77.00" font-size="6.2" text-anchor="middle" fill="#333" stroke="#333" stroke-width="0.1">ns</text>
<text x="197.30" y="102.00" font-size="6.4" font-style="italic" textLength="23.6" lengthAdjust="spacingAndGlyphs" stroke="#231f20" stroke-width="0.1">SLC7A5</text>
<text x="226.00" y="102.00" font-size="6.4" font-style="italic" textLength="26.9" lengthAdjust="spacingAndGlyphs" stroke="#231f20" stroke-width="0.1">SLC43A1</text>
<text x="257.20" y="102.00" font-size="6.4" font-style="italic" textLength="27.0" lengthAdjust="spacingAndGlyphs" stroke="#231f20" stroke-width="0.1">SLC43A2</text>
<text x="321.60" y="16.50" font-size="12.2" font-weight="bold" fill="#111" stroke="#111" stroke-width="0.1">B</text>
<text x="388.10" y="15.50" font-size="8.1" textLength="79.2" lengthAdjust="spacingAndGlyphs" stroke="#231f20" stroke-width="0.1">Experimental Scheme</text>
<ellipse cx="366.2" cy="53.2" rx="10.2" ry="3.4" fill="#e07592"/>
<path d="M356 49.5 L356 53.2 A10.2 3.4 0 0 0 376.4 53.2 L376.4 49.5" fill="#e07592" stroke="#555" stroke-width="0.6"/>
<ellipse cx="366.2" cy="49.5" rx="10.2" ry="3.4" fill="#fff" stroke="#555" stroke-width="0.6"/>
<text x="366.20" y="64.50" font-size="6.0" text-anchor="middle" textLength="54.5" lengthAdjust="spacingAndGlyphs" stroke="#231f20" stroke-width="0.1">Leukemia Cell Lines</text>
<text x="366.20" y="72.50" font-size="6.0" text-anchor="middle" textLength="65.2" lengthAdjust="spacingAndGlyphs" stroke="#231f20" stroke-width="0.1">(Supplemental Figure 6)</text>
<line x1="375.60" y1="81.50" x2="375.60" y2="118.50" stroke="#8a9aa0" stroke-width="0.7"/>
<line x1="372.50" y1="81.60" x2="379.50" y2="81.60" stroke="#b8c4c8" stroke-width="0.5"/>
<rect x="373.4" y="83.5" width="4.6" height="12" rx="1.4" fill="#bfe0e6" stroke="#8fb6bf" stroke-width="0.4"/>
<path d="M359.6 85.5 Q363 82.6 366.6 85.2 L366.8 91.5 Q366 94.3 363 94.8 Q360 94.3 359.6 91.5 Z" fill="#3b3b3b"/>
<path d="M361 93.5 L365.6 93.5 L366 96 L360.6 96 Z" fill="#3b3b3b"/>
<path d="M355.5 96 Q363 93.8 371 96 L372.8 104 L371.2 118.6 L355.0 118.6 L353.6 104 Z" fill="#c4dfe0"/>
<path d="M353.6 103 L356.6 103 L357.2 118.6 L354.4 118.6 Z" fill="#3b3b3b"/>
<path d="M371.5 104 L373.5 104 L373.6 109.2 L377.2 108.8 L377.4 111.6 L372.2 112.2 Z" fill="#3b3b3b"/>
<text x="363.50" y="124.20" font-size="6.2" text-anchor="middle" textLength="59.9" lengthAdjust="spacingAndGlyphs" stroke="#231f20" stroke-width="0.1">AML Patient Samples</text>
<path d="M421.4 41.2 C414 45 409.5 50 409.8 58 C410 66 413.5 74 412.6 80 C412 84 409 86 407.2 87.2 C409 88.5 411.3 91 411.3 95 L411.3 112 C411.5 118 416 122.5 423.2 126.2" fill="none" stroke="#555" stroke-width="0.8"/>
<circle cx="431.10" cy="27.00" r="3.2" fill="none" stroke="#333" stroke-width="0.6"/>
<text x="431.10" y="29.10" font-size="4.8" text-anchor="middle" stroke="#231f20" stroke-width="0.1">1</text>
<text x="437.20" y="29.20" font-size="6.2" textLength="62.0" lengthAdjust="spacingAndGlyphs" stroke="#231f20" stroke-width="0.1">Concentration Titration</text>
<line x1="437.20" y1="30.40" x2="499.20" y2="30.40" stroke="#444" stroke-width="0.5"/>
<text x="453.50" y="36.80" font-size="6.2" textLength="23.7" lengthAdjust="spacingAndGlyphs" stroke="#231f20" stroke-width="0.1">+Control</text>
<text x="452.70" y="45.00" font-size="6.2" textLength="25.8" lengthAdjust="spacingAndGlyphs" stroke="#231f20" stroke-width="0.1">+JPH203</text>
<line x1="465.50" y1="46.30" x2="465.50" y2="52.50" stroke="#333" stroke-width="0.7"/>
<line x1="459.00" y1="52.50" x2="471.70" y2="52.50" stroke="#333" stroke-width="0.9"/>
<circle cx="465.80" cy="55.40" r="1.2" fill="#3f6f73"/>
<circle cx="458.80" cy="58.70" r="1.2" fill="#3f6f73"/>
<circle cx="473.60" cy="57.30" r="1.2" fill="#3f6f73"/>
<circle cx="457.20" cy="64.50" r="0.7" fill="#e6dcc0"/>
<circle cx="476.40" cy="64.50" r="0.7" fill="#e6dcc0"/>
<circle cx="457.20" cy="79.50" r="0.7" fill="#e6dcc0"/>
<circle cx="476.40" cy="79.50" r="0.7" fill="#e6dcc0"/>
<path d="M459.4 65.5 Q459.4 61.2 463 60.6 L466.8 62.6 L470.6 60.6 Q474.3 61.2 474.3 65.5 L474.3 77.3 Q474.3 81.6 470.6 82.2 L466.8 80.2 L463 82.2 Q459.4 81.6 459.4 77.3 Z" fill="#80ccd3"/>
<path d="M463.3 61 L466.8 62.9 L470.3 61 L470.3 81.8 L466.8 79.9 L463.3 81.8 Z" fill="#3b9ba3"/>
<line x1="466.80" y1="62.90" x2="466.80" y2="79.90" stroke="#2d7f87" stroke-width="0.6"/>
<text x="466.60" y="87.00" font-size="3.6" text-anchor="middle" fill="#8fcbd6" stroke="#8fcbd6" stroke-width="0.1">SLC7A5</text>
<circle cx="429.00" cy="93.10" r="3.2" fill="none" stroke="#333" stroke-width="0.6"/>
<text x="429.00" y="95.20" font-size="4.8" text-anchor="middle" stroke="#231f20" stroke-width="0.1">2</text>
<text x="435.80" y="95.20" font-size="6.2" textLength="63.0" lengthAdjust="spacingAndGlyphs" stroke="#231f20" stroke-width="0.1">Combination Treatment</text>
<line x1="435.80" y1="96.60" x2="498.80" y2="96.60" stroke="#444" stroke-width="0.5"/>
<text x="435.80" y="103.30" font-size="6.2" textLength="23.6" lengthAdjust="spacingAndGlyphs" stroke="#231f20" stroke-width="0.1">+Control</text>
<text x="435.80" y="111.00" font-size="6.2" textLength="47.7" lengthAdjust="spacingAndGlyphs" stroke="#231f20" stroke-width="0.1">+JPH203 (40μM)</text>
<text x="435.80" y="118.70" font-size="6.2" textLength="80.0" lengthAdjust="spacingAndGlyphs" stroke="#231f20" stroke-width="0.1">+Ven (100nM) + Aza (1.5μM)</text>
<text x="435.80" y="126.40" font-size="6.2" textLength="80.0" lengthAdjust="spacingAndGlyphs" stroke="#231f20" stroke-width="0.1">+Ven (100nM) + Aza (1.5μM)</text>
<text x="448.80" y="133.60" font-size="6.2" textLength="49.7" lengthAdjust="spacingAndGlyphs" stroke="#231f20" stroke-width="0.1">+JPH203 (40μM)</text>
<text x="9.60" y="149.10" font-size="12.2" font-weight="bold" fill="#111" stroke="#111" stroke-width="0.1">C</text>
<text x="96.40" y="150.30" font-size="8.2" textLength="158.6" lengthAdjust="spacingAndGlyphs" stroke="#231f20" stroke-width="0.1">Concentration Titration - Annexin V Staining</text>
<text x="178.30" y="160.20" font-size="6.3" text-anchor="middle" textLength="21.5" lengthAdjust="spacingAndGlyphs" stroke="#231f20" stroke-width="0.1">JPH203</text>
<line x1="112.70" y1="162.10" x2="242.00" y2="162.10" stroke="#333" stroke-width="0.7"/>
<rect x="77.50" y="165.90" width="6.50" height="5.40" fill="#c8c8d2"/>
<text x="87.10" y="170.90" font-size="6.0" fill="#444" stroke="#444" stroke-width="0.1">DMSO</text>
<rect x="114.30" y="165.90" width="6.50" height="5.40" fill="#e4f2dc"/>
<text x="123.90" y="170.90" font-size="6.0" fill="#444" stroke="#444" stroke-width="0.1">5μM</text>
<rect x="145.20" y="165.90" width="6.50" height="5.40" fill="#c6e5b6"/>
<text x="154.80" y="170.90" font-size="6.0" fill="#444" stroke="#444" stroke-width="0.1">10μM</text>
<rect x="181.00" y="165.90" width="6.50" height="5.40" fill="#8fd07c"/>
<text x="190.60" y="170.90" font-size="6.0" fill="#444" stroke="#444" stroke-width="0.1">20μM</text>
<rect x="217.00" y="165.90" width="6.50" height="5.40" fill="#3bb143"/>
<text x="226.60" y="170.90" font-size="6.0" fill="#444" stroke="#444" stroke-width="0.1">40μM</text>
<line x1="61.80" y1="172.50" x2="61.80" y2="243.60" stroke="#1a1a1a" stroke-width="1.1"/>
<line x1="59.60" y1="243.60" x2="61.80" y2="243.60" stroke="#1a1a1a" stroke-width="0.9"/>
<text x="56.20" y="245.69" font-size="5.8" text-anchor="end" fill="#333" stroke="#333" stroke-width="0.1">0.0</text>
<line x1="59.60" y1="226.55" x2="61.80" y2="226.55" stroke="#1a1a1a" stroke-width="0.9"/>
<text x="56.20" y="228.64" font-size="5.8" text-anchor="end" fill="#333" stroke="#333" stroke-width="0.1">0.5</text>
<line x1="59.60" y1="209.50" x2="61.80" y2="209.50" stroke="#1a1a1a" stroke-width="0.9"/>
<text x="56.20" y="211.59" font-size="5.8" text-anchor="end" fill="#333" stroke="#333" stroke-width="0.1">1.0</text>
<line x1="59.60" y1="192.45" x2="61.80" y2="192.45" stroke="#1a1a1a" stroke-width="0.9"/>
<text x="56.20" y="194.54" font-size="5.8" text-anchor="end" fill="#333" stroke="#333" stroke-width="0.1">1.5</text>
<line x1="59.60" y1="175.40" x2="61.80" y2="175.40" stroke="#1a1a1a" stroke-width="0.9"/>
<text x="56.20" y="177.49" font-size="5.8" text-anchor="end" fill="#333" stroke="#333" stroke-width="0.1">2.0</text>
<line x1="61.80" y1="243.60" x2="304.60" y2="243.60" stroke="#1a1a1a" stroke-width="1.1"/>
<text x="31.20" y="208.50" font-size="7.6" text-anchor="middle" textLength="48.7" lengthAdjust="spacingAndGlyphs" stroke="#231f20" stroke-width="0.3" transform="rotate(-90 31.20 208.50)">Normalized number</text>
<text x="41.30" y="207.40" font-size="7.6" text-anchor="middle" textLength="29.7" lengthAdjust="spacingAndGlyphs" stroke="#231f20" stroke-width="0.3" transform="rotate(-90 41.30 207.40)">of live cells</text>
<text x="36.20" y="255.50" font-size="6.0" textLength="26.0" lengthAdjust="spacingAndGlyphs" stroke="#231f20" stroke-width="0.1">Patient ID</text>
<rect x="68.70" y="209.84" width="5.40" height="33.76" fill="#c8c8d2"/>
<rect x="74.70" y="219.73" width="5.40" height="23.87" fill="#e4f2dc"/>
<rect x="80.70" y="226.89" width="5.40" height="16.71" fill="#c6e5b6"/>
<rect x="86.70" y="239.17" width="5.40" height="4.43" fill="#8fd07c"/>
<rect x="92.70" y="237.12" width="5.40" height="6.48" fill="#3bb143"/>
<line x1="71.40" y1="209.84" x2="71.40" y2="205.41" stroke="#222" stroke-width="0.75"/>
<line x1="70.20" y1="205.41" x2="72.60" y2="205.41" stroke="#222" stroke-width="0.75"/>
<circle cx="70.60" cy="205.41" r="1.45" fill="#222"/>
<circle cx="71.40" cy="207.80" r="1.45" fill="#222"/>
<circle cx="72.20" cy="216.32" r="1.45" fill="#222"/>
<line x1="77.40" y1="219.73" x2="77.40" y2="213.59" stroke="#222" stroke-width="0.75"/>
<line x1="76.20" y1="213.59" x2="78.60" y2="213.59" stroke="#222" stroke-width="0.75"/>
<circle cx="75.80" cy="213.59" r="1.3" fill="#fff" stroke="#263326" stroke-width="0.7"/>
<circle cx="77.40" cy="219.73" r="1.3" fill="#fff" stroke="#263326" stroke-width="0.7"/>
<circle cx="79.00" cy="227.57" r="1.3" fill="#fff" stroke="#263326" stroke-width="0.7"/>
<line x1="83.40" y1="226.89" x2="83.40" y2="227.23" stroke="#222" stroke-width="0.75"/>
<line x1="82.20" y1="227.23" x2="84.60" y2="227.23" stroke="#222" stroke-width="0.75"/>
<circle cx="81.80" cy="227.23" r="1.3" fill="#fff" stroke="#263326" stroke-width="0.7"/>
<circle cx="83.40" cy="227.91" r="1.3" fill="#fff" stroke="#263326" stroke-width="0.7"/>
<circle cx="85.00" cy="234.39" r="1.3" fill="#fff" stroke="#263326" stroke-width="0.7"/>
<line x1="89.40" y1="239.17" x2="89.40" y2="238.83" stroke="#222" stroke-width="0.75"/>
<line x1="88.20" y1="238.83" x2="90.60" y2="238.83" stroke="#222" stroke-width="0.75"/>
<circle cx="87.80" cy="240.19" r="1.3" fill="#fff" stroke="#263326" stroke-width="0.7"/>
<circle cx="89.40" cy="239.51" r="1.3" fill="#fff" stroke="#263326" stroke-width="0.7"/>
<circle cx="91.00" cy="238.83" r="1.3" fill="#fff" stroke="#263326" stroke-width="0.7"/>
<line x1="95.40" y1="237.12" x2="95.40" y2="236.78" stroke="#222" stroke-width="0.75"/>
<line x1="94.20" y1="236.78" x2="96.60" y2="236.78" stroke="#222" stroke-width="0.75"/>
<circle cx="93.80" cy="236.78" r="1.3" fill="#fff" stroke="#263326" stroke-width="0.7"/>
<circle cx="95.40" cy="237.46" r="1.3" fill="#fff" stroke="#263326" stroke-width="0.7"/>
<circle cx="97.00" cy="238.14" r="1.3" fill="#fff" stroke="#263326" stroke-width="0.7"/>
<line x1="83.40" y1="243.60" x2="83.40" y2="245.40" stroke="#231f20" stroke-width="0.7"/>
<rect x="108.60" y="211.89" width="5.40" height="31.71" fill="#c8c8d2"/>
<rect x="114.60" y="211.89" width="5.40" height="31.71" fill="#e4f2dc"/>
<rect x="120.60" y="215.64" width="5.40" height="27.96" fill="#c6e5b6"/>
<rect x="126.60" y="229.96" width="5.40" height="13.64" fill="#8fd07c"/>
<rect x="132.60" y="228.94" width="5.40" height="14.66" fill="#3bb143"/>
<line x1="111.30" y1="211.89" x2="111.30" y2="202.00" stroke="#222" stroke-width="0.75"/>
<line x1="110.10" y1="202.00" x2="112.50" y2="202.00" stroke="#222" stroke-width="0.75"/>
<circle cx="110.50" cy="202.00" r="1.45" fill="#222"/>
<circle cx="111.30" cy="212.91" r="1.45" fill="#222"/>
<circle cx="112.10" cy="212.91" r="1.45" fill="#222"/>
<line x1="117.30" y1="211.89" x2="117.30" y2="195.18" stroke="#222" stroke-width="0.75"/>
<line x1="116.10" y1="195.18" x2="118.50" y2="195.18" stroke="#222" stroke-width="0.75"/>
<circle cx="115.70" cy="195.18" r="1.3" fill="#fff" stroke="#263326" stroke-width="0.7"/>
<circle cx="117.30" cy="211.20" r="1.3" fill="#fff" stroke="#263326" stroke-width="0.7"/>
<circle cx="118.90" cy="221.09" r="1.3" fill="#fff" stroke="#263326" stroke-width="0.7"/>
<line x1="123.30" y1="215.64" x2="123.30" y2="213.93" stroke="#222" stroke-width="0.75"/>
<line x1="122.10" y1="213.93" x2="124.50" y2="213.93" stroke="#222" stroke-width="0.75"/>
<circle cx="121.70" cy="213.93" r="1.3" fill="#fff" stroke="#263326" stroke-width="0.7"/>
<circle cx="123.30" cy="215.64" r="1.3" fill="#fff" stroke="#263326" stroke-width="0.7"/>
<circle cx="124.90" cy="220.07" r="1.3" fill="#fff" stroke="#263326" stroke-width="0.7"/>
<line x1="129.30" y1="229.96" x2="129.30" y2="228.94" stroke="#222" stroke-width="0.75"/>
<line x1="128.10" y1="228.94" x2="130.50" y2="228.94" stroke="#222" stroke-width="0.75"/>
<circle cx="127.70" cy="228.94" r="1.3" fill="#fff" stroke="#263326" stroke-width="0.7"/>
<circle cx="129.30" cy="229.96" r="1.3" fill="#fff" stroke="#263326" stroke-width="0.7"/>
<circle cx="130.90" cy="230.64" r="1.3" fill="#fff" stroke="#263326" stroke-width="0.7"/>
<line x1="135.30" y1="228.94" x2="135.30" y2="226.21" stroke="#222" stroke-width="0.75"/>
<line x1="134.10" y1="226.21" x2="136.50" y2="226.21" stroke="#222" stroke-width="0.75"/>
<circle cx="133.70" cy="226.21" r="1.3" fill="#fff" stroke="#263326" stroke-width="0.7"/>
<circle cx="135.30" cy="230.64" r="1.3" fill="#fff" stroke="#263326" stroke-width="0.7"/>
<circle cx="136.90" cy="229.96" r="1.3" fill="#fff" stroke="#263326" stroke-width="0.7"/>
<line x1="123.30" y1="243.60" x2="123.30" y2="245.40" stroke="#231f20" stroke-width="0.7"/>
<rect x="148.70" y="210.18" width="5.40" height="33.42" fill="#c8c8d2"/>
<rect x="154.70" y="216.32" width="5.40" height="27.28" fill="#e4f2dc"/>
<rect x="160.70" y="223.14" width="5.40" height="20.46" fill="#c6e5b6"/>
<rect x="166.70" y="220.41" width="5.40" height="23.19" fill="#8fd07c"/>
<rect x="172.70" y="228.94" width="5.40" height="14.66" fill="#3bb143"/>
<line x1="151.40" y1="210.18" x2="151.40" y2="206.09" stroke="#222" stroke-width="0.75"/>
<line x1="150.20" y1="206.09" x2="152.60" y2="206.09" stroke="#222" stroke-width="0.75"/>
<circle cx="150.60" cy="206.09" r="1.45" fill="#222"/>
<circle cx="151.40" cy="210.18" r="1.45" fill="#222"/>
<circle cx="152.20" cy="211.20" r="1.45" fill="#222"/>
<line x1="157.40" y1="216.32" x2="157.40" y2="211.20" stroke="#222" stroke-width="0.75"/>
<line x1="156.20" y1="211.20" x2="158.60" y2="211.20" stroke="#222" stroke-width="0.75"/>
<circle cx="155.80" cy="211.20" r="1.3" fill="#fff" stroke="#263326" stroke-width="0.7"/>
<circle cx="157.40" cy="214.96" r="1.3" fill="#fff" stroke="#263326" stroke-width="0.7"/>
<circle cx="159.00" cy="219.05" r="1.3" fill="#fff" stroke="#263326" stroke-width="0.7"/>
<line x1="163.40" y1="223.14" x2="163.40" y2="219.05" stroke="#222" stroke-width="0.75"/>
<line x1="162.20" y1="219.05" x2="164.60" y2="219.05" stroke="#222" stroke-width="0.75"/>
<circle cx="161.80" cy="219.05" r="1.3" fill="#fff" stroke="#263326" stroke-width="0.7"/>
<circle cx="163.40" cy="222.46" r="1.3" fill="#fff" stroke="#263326" stroke-width="0.7"/>
<circle cx="165.00" cy="227.23" r="1.3" fill="#fff" stroke="#263326" stroke-width="0.7"/>
<line x1="169.40" y1="220.41" x2="169.40" y2="220.41" stroke="#222" stroke-width="0.75"/>
<line x1="168.20" y1="220.41" x2="170.60" y2="220.41" stroke="#222" stroke-width="0.75"/>
<circle cx="167.80" cy="221.09" r="1.3" fill="#fff" stroke="#263326" stroke-width="0.7"/>
<circle cx="169.40" cy="220.41" r="1.3" fill="#fff" stroke="#263326" stroke-width="0.7"/>
<circle cx="171.00" cy="220.75" r="1.3" fill="#fff" stroke="#263326" stroke-width="0.7"/>
<line x1="175.40" y1="228.94" x2="175.40" y2="224.84" stroke="#222" stroke-width="0.75"/>
<line x1="174.20" y1="224.84" x2="176.60" y2="224.84" stroke="#222" stroke-width="0.75"/>
<circle cx="173.80" cy="224.84" r="1.3" fill="#fff" stroke="#263326" stroke-width="0.7"/>
<circle cx="175.40" cy="229.96" r="1.3" fill="#fff" stroke="#263326" stroke-width="0.7"/>
<circle cx="177.00" cy="228.25" r="1.3" fill="#fff" stroke="#263326" stroke-width="0.7"/>
<line x1="163.40" y1="243.60" x2="163.40" y2="245.40" stroke="#231f20" stroke-width="0.7"/>
<rect x="188.40" y="209.84" width="5.40" height="33.76" fill="#c8c8d2"/>
<rect x="194.40" y="209.84" width="5.40" height="33.76" fill="#e4f2dc"/>
<rect x="200.40" y="208.14" width="5.40" height="35.46" fill="#c6e5b6"/>
<rect x="206.40" y="219.73" width="5.40" height="23.87" fill="#8fd07c"/>
<rect x="212.40" y="219.73" width="5.40" height="23.87" fill="#3bb143"/>
<line x1="191.10" y1="209.84" x2="191.10" y2="205.41" stroke="#222" stroke-width="0.75"/>
<line x1="189.90" y1="205.41" x2="192.30" y2="205.41" stroke="#222" stroke-width="0.75"/>
<circle cx="190.30" cy="205.41" r="1.45" fill="#222"/>
<circle cx="191.10" cy="207.80" r="1.45" fill="#222"/>
<circle cx="191.90" cy="212.23" r="1.45" fill="#222"/>
<line x1="197.10" y1="209.84" x2="197.10" y2="209.50" stroke="#222" stroke-width="0.75"/>
<line x1="195.90" y1="209.50" x2="198.30" y2="209.50" stroke="#222" stroke-width="0.75"/>
<circle cx="195.50" cy="209.50" r="1.3" fill="#fff" stroke="#263326" stroke-width="0.7"/>
<circle cx="197.10" cy="209.50" r="1.3" fill="#fff" stroke="#263326" stroke-width="0.7"/>
<circle cx="198.70" cy="210.18" r="1.3" fill="#fff" stroke="#263326" stroke-width="0.7"/>
<line x1="203.10" y1="208.14" x2="203.10" y2="202.00" stroke="#222" stroke-width="0.75"/>
<line x1="201.90" y1="202.00" x2="204.30" y2="202.00" stroke="#222" stroke-width="0.75"/>
<circle cx="201.50" cy="202.00" r="1.3" fill="#fff" stroke="#263326" stroke-width="0.7"/>
<circle cx="203.10" cy="209.50" r="1.3" fill="#fff" stroke="#263326" stroke-width="0.7"/>
<circle cx="204.70" cy="209.50" r="1.3" fill="#fff" stroke="#263326" stroke-width="0.7"/>
<line x1="209.10" y1="219.73" x2="209.10" y2="216.32" stroke="#222" stroke-width="0.75"/>
<line x1="207.90" y1="216.32" x2="210.30" y2="216.32" stroke="#222" stroke-width="0.75"/>
<circle cx="207.50" cy="216.32" r="1.3" fill="#fff" stroke="#263326" stroke-width="0.7"/>
<circle cx="209.10" cy="219.05" r="1.3" fill="#fff" stroke="#263326" stroke-width="0.7"/>
<circle cx="210.70" cy="219.73" r="1.3" fill="#fff" stroke="#263326" stroke-width="0.7"/>
<line x1="215.10" y1="219.73" x2="215.10" y2="217.00" stroke="#222" stroke-width="0.75"/>
<line x1="213.90" y1="217.00" x2="216.30" y2="217.00" stroke="#222" stroke-width="0.75"/>
<circle cx="213.50" cy="217.00" r="1.3" fill="#fff" stroke="#263326" stroke-width="0.7"/>
<circle cx="215.10" cy="219.73" r="1.3" fill="#fff" stroke="#263326" stroke-width="0.7"/>
<circle cx="216.70" cy="220.41" r="1.3" fill="#fff" stroke="#263326" stroke-width="0.7"/>
<line x1="203.10" y1="243.60" x2="203.10" y2="245.40" stroke="#231f20" stroke-width="0.7"/>
<rect x="228.50" y="210.18" width="5.40" height="33.42" fill="#c8c8d2"/>
<rect x="234.50" y="217.00" width="5.40" height="26.60" fill="#e4f2dc"/>
<rect x="240.50" y="212.91" width="5.40" height="30.69" fill="#c6e5b6"/>
<rect x="246.50" y="220.41" width="5.40" height="23.19" fill="#8fd07c"/>
<rect x="252.50" y="214.96" width="5.40" height="28.64" fill="#3bb143"/>
<line x1="231.20" y1="210.18" x2="231.20" y2="206.77" stroke="#222" stroke-width="0.75"/>
<line x1="230.00" y1="206.77" x2="232.40" y2="206.77" stroke="#222" stroke-width="0.75"/>
<circle cx="230.40" cy="206.77" r="1.45" fill="#222"/>
<circle cx="231.20" cy="208.82" r="1.45" fill="#222"/>
<circle cx="232.00" cy="212.91" r="1.45" fill="#222"/>
<line x1="237.20" y1="217.00" x2="237.20" y2="212.91" stroke="#222" stroke-width="0.75"/>
<line x1="236.00" y1="212.91" x2="238.40" y2="212.91" stroke="#222" stroke-width="0.75"/>
<circle cx="235.60" cy="212.91" r="1.3" fill="#fff" stroke="#263326" stroke-width="0.7"/>
<circle cx="237.20" cy="219.05" r="1.3" fill="#fff" stroke="#263326" stroke-width="0.7"/>
<circle cx="238.80" cy="218.03" r="1.3" fill="#fff" stroke="#263326" stroke-width="0.7"/>
<line x1="243.20" y1="212.91" x2="243.20" y2="208.14" stroke="#222" stroke-width="0.75"/>
<line x1="242.00" y1="208.14" x2="244.40" y2="208.14" stroke="#222" stroke-width="0.75"/>
<circle cx="241.60" cy="208.14" r="1.3" fill="#fff" stroke="#263326" stroke-width="0.7"/>
<circle cx="243.20" cy="212.91" r="1.3" fill="#fff" stroke="#263326" stroke-width="0.7"/>
<circle cx="244.80" cy="212.23" r="1.3" fill="#fff" stroke="#263326" stroke-width="0.7"/>
<line x1="249.20" y1="220.41" x2="249.20" y2="218.37" stroke="#222" stroke-width="0.75"/>
<line x1="248.00" y1="218.37" x2="250.40" y2="218.37" stroke="#222" stroke-width="0.75"/>
<circle cx="247.60" cy="218.37" r="1.3" fill="#fff" stroke="#263326" stroke-width="0.7"/>
<circle cx="249.20" cy="221.09" r="1.3" fill="#fff" stroke="#263326" stroke-width="0.7"/>
<circle cx="250.80" cy="222.46" r="1.3" fill="#fff" stroke="#263326" stroke-width="0.7"/>
<line x1="255.20" y1="214.96" x2="255.20" y2="213.59" stroke="#222" stroke-width="0.75"/>
<line x1="254.00" y1="213.59" x2="256.40" y2="213.59" stroke="#222" stroke-width="0.75"/>
<circle cx="253.60" cy="213.59" r="1.3" fill="#fff" stroke="#263326" stroke-width="0.7"/>
<circle cx="255.20" cy="216.32" r="1.3" fill="#fff" stroke="#263326" stroke-width="0.7"/>
<circle cx="256.80" cy="218.37" r="1.3" fill="#fff" stroke="#263326" stroke-width="0.7"/>
<line x1="243.20" y1="243.60" x2="243.20" y2="245.40" stroke="#231f20" stroke-width="0.7"/>
<rect x="268.30" y="209.84" width="5.40" height="33.76" fill="#c8c8d2"/>
<rect x="274.30" y="197.91" width="5.40" height="45.69" fill="#e4f2dc"/>
<rect x="280.30" y="226.89" width="5.40" height="16.71" fill="#c6e5b6"/>
<rect x="286.30" y="222.46" width="5.40" height="21.14" fill="#8fd07c"/>
<rect x="292.30" y="223.14" width="5.40" height="20.46" fill="#3bb143"/>
<line x1="271.00" y1="209.84" x2="271.00" y2="182.22" stroke="#222" stroke-width="0.75"/>
<line x1="269.80" y1="182.22" x2="272.20" y2="182.22" stroke="#222" stroke-width="0.75"/>
<circle cx="270.20" cy="182.22" r="1.45" fill="#222"/>
<circle cx="271.00" cy="219.05" r="1.45" fill="#222"/>
<circle cx="271.80" cy="228.25" r="1.45" fill="#222"/>
<line x1="277.00" y1="197.91" x2="277.00" y2="178.81" stroke="#222" stroke-width="0.75"/>
<line x1="275.80" y1="178.81" x2="278.20" y2="178.81" stroke="#222" stroke-width="0.75"/>
<circle cx="275.40" cy="178.81" r="1.3" fill="#fff" stroke="#263326" stroke-width="0.7"/>
<circle cx="277.00" cy="194.84" r="1.3" fill="#fff" stroke="#263326" stroke-width="0.7"/>
<circle cx="278.60" cy="215.30" r="1.3" fill="#fff" stroke="#263326" stroke-width="0.7"/>
<line x1="283.00" y1="226.89" x2="283.00" y2="211.55" stroke="#222" stroke-width="0.75"/>
<line x1="281.80" y1="211.55" x2="284.20" y2="211.55" stroke="#222" stroke-width="0.75"/>
<circle cx="281.40" cy="211.55" r="1.3" fill="#fff" stroke="#263326" stroke-width="0.7"/>
<circle cx="283.00" cy="229.96" r="1.3" fill="#fff" stroke="#263326" stroke-width="0.7"/>
<circle cx="284.60" cy="236.78" r="1.3" fill="#fff" stroke="#263326" stroke-width="0.7"/>
<line x1="289.00" y1="222.46" x2="289.00" y2="214.27" stroke="#222" stroke-width="0.75"/>
<line x1="287.80" y1="214.27" x2="290.20" y2="214.27" stroke="#222" stroke-width="0.75"/>
<circle cx="287.40" cy="214.27" r="1.3" fill="#fff" stroke="#263326" stroke-width="0.7"/>
<circle cx="289.00" cy="214.96" r="1.3" fill="#fff" stroke="#263326" stroke-width="0.7"/>
<circle cx="290.60" cy="236.10" r="1.3" fill="#fff" stroke="#263326" stroke-width="0.7"/>
<line x1="295.00" y1="223.14" x2="295.00" y2="215.98" stroke="#222" stroke-width="0.75"/>
<line x1="293.80" y1="215.98" x2="296.20" y2="215.98" stroke="#222" stroke-width="0.75"/>
<circle cx="293.40" cy="215.98" r="1.3" fill="#fff" stroke="#263326" stroke-width="0.7"/>
<circle cx="295.00" cy="216.32" r="1.3" fill="#fff" stroke="#263326" stroke-width="0.7"/>
<circle cx="296.60" cy="232.69" r="1.3" fill="#fff" stroke="#263326" stroke-width="0.7"/>
<line x1="283.00" y1="243.60" x2="283.00" y2="245.40" stroke="#231f20" stroke-width="0.7"/>
<line x1="69.60" y1="192.30" x2="77.40" y2="192.30" stroke="#333" stroke-width="0.6"/>
<text x="77.70" y="191.60" font-size="5.6" text-anchor="end" fill="#333" stroke="#333" stroke-width="0.1">ns</text>
<line x1="69.60" y1="195.30" x2="83.40" y2="195.30" stroke="#333" stroke-width="0.6"/>
<text x="78.50" y="198.10" font-size="5.6" text-anchor="middle" fill="#333" stroke="#333" stroke-width="0.1">*</text>
<line x1="69.60" y1="198.30" x2="89.40" y2="198.30" stroke="#333" stroke-width="0.6"/>
<text x="81.50" y="201.10" font-size="5.6" text-anchor="middle" fill="#333" stroke="#333" stroke-width="0.1">***</text>
<line x1="69.60" y1="201.30" x2="95.40" y2="201.30" stroke="#333" stroke-width="0.6"/>
<text x="84.50" y="204.10" font-size="5.6" text-anchor="middle" fill="#333" stroke="#333" stroke-width="0.1">***</text>
<line x1="109.50" y1="183.80" x2="117.30" y2="183.80" stroke="#333" stroke-width="0.6"/>
<text x="117.60" y="183.10" font-size="5.6" text-anchor="end" fill="#333" stroke="#333" stroke-width="0.1">ns</text>
<line x1="109.50" y1="186.80" x2="123.30" y2="186.80" stroke="#333" stroke-width="0.6"/>
<text x="123.60" y="186.10" font-size="5.6" text-anchor="end" fill="#333" stroke="#333" stroke-width="0.1">ns</text>
<line x1="109.50" y1="189.80" x2="129.30" y2="189.80" stroke="#333" stroke-width="0.6"/>
<text x="121.40" y="192.60" font-size="5.6" text-anchor="middle" fill="#333" stroke="#333" stroke-width="0.1">*</text>
<line x1="109.50" y1="192.80" x2="135.30" y2="192.80" stroke="#333" stroke-width="0.6"/>
<text x="124.40" y="195.60" font-size="5.6" text-anchor="middle" fill="#333" stroke="#333" stroke-width="0.1">*</text>
<line x1="149.60" y1="193.80" x2="157.40" y2="193.80" stroke="#333" stroke-width="0.6"/>
<text x="157.70" y="193.10" font-size="5.6" text-anchor="end" fill="#333" stroke="#333" stroke-width="0.1">ns</text>
<line x1="149.60" y1="196.80" x2="163.40" y2="196.80" stroke="#333" stroke-width="0.6"/>
<text x="163.70" y="196.10" font-size="5.6" text-anchor="end" fill="#333" stroke="#333" stroke-width="0.1">ns</text>
<line x1="149.60" y1="199.80" x2="169.40" y2="199.80" stroke="#333" stroke-width="0.6"/>
<text x="161.50" y="202.60" font-size="5.6" text-anchor="middle" fill="#333" stroke="#333" stroke-width="0.1">*</text>
<line x1="149.60" y1="202.80" x2="175.40" y2="202.80" stroke="#333" stroke-width="0.6"/>
<text x="175.70" y="202.10" font-size="5.6" text-anchor="end" fill="#333" stroke="#333" stroke-width="0.1">ns</text>
<line x1="189.30" y1="193.00" x2="197.10" y2="193.00" stroke="#333" stroke-width="0.6"/>
<text x="197.40" y="192.30" font-size="5.6" text-anchor="end" fill="#333" stroke="#333" stroke-width="0.1">ns</text>
<line x1="189.30" y1="196.00" x2="203.10" y2="196.00" stroke="#333" stroke-width="0.6"/>
<text x="203.40" y="195.30" font-size="5.6" text-anchor="end" fill="#333" stroke="#333" stroke-width="0.1">ns</text>
<line x1="189.30" y1="199.00" x2="209.10" y2="199.00" stroke="#333" stroke-width="0.6"/>
<text x="209.40" y="198.30" font-size="5.6" text-anchor="end" fill="#333" stroke="#333" stroke-width="0.1">ns</text>
<line x1="189.30" y1="202.00" x2="215.10" y2="202.00" stroke="#333" stroke-width="0.6"/>
<text x="215.40" y="201.30" font-size="5.6" text-anchor="end" fill="#333" stroke="#333" stroke-width="0.1">ns</text>
<line x1="229.40" y1="193.50" x2="237.20" y2="193.50" stroke="#333" stroke-width="0.6"/>
<text x="237.50" y="192.80" font-size="5.6" text-anchor="end" fill="#333" stroke="#333" stroke-width="0.1">ns</text>
<line x1="229.40" y1="196.50" x2="243.20" y2="196.50" stroke="#333" stroke-width="0.6"/>
<text x="243.50" y="195.80" font-size="5.6" text-anchor="end" fill="#333" stroke="#333" stroke-width="0.1">ns</text>
<line x1="229.40" y1="199.50" x2="249.20" y2="199.50" stroke="#333" stroke-width="0.6"/>
<text x="249.50" y="198.80" font-size="5.6" text-anchor="end" fill="#333" stroke="#333" stroke-width="0.1">ns</text>
<line x1="229.40" y1="202.50" x2="255.20" y2="202.50" stroke="#333" stroke-width="0.6"/>
<text x="255.50" y="201.80" font-size="5.6" text-anchor="end" fill="#333" stroke="#333" stroke-width="0.1">ns</text>
<line x1="269.20" y1="169.00" x2="277.00" y2="169.00" stroke="#333" stroke-width="0.6"/>
<text x="277.30" y="168.30" font-size="5.6" text-anchor="end" fill="#333" stroke="#333" stroke-width="0.1">ns</text>
<line x1="269.20" y1="172.00" x2="283.00" y2="172.00" stroke="#333" stroke-width="0.6"/>
<text x="283.30" y="171.30" font-size="5.6" text-anchor="end" fill="#333" stroke="#333" stroke-width="0.1">ns</text>
<line x1="269.20" y1="175.00" x2="289.00" y2="175.00" stroke="#333" stroke-width="0.6"/>
<text x="289.30" y="174.30" font-size="5.6" text-anchor="end" fill="#333" stroke="#333" stroke-width="0.1">ns</text>
<line x1="269.20" y1="178.00" x2="295.00" y2="178.00" stroke="#333" stroke-width="0.6"/>
<text x="295.30" y="177.30" font-size="5.6" text-anchor="end" fill="#333" stroke="#333" stroke-width="0.1">ns</text>
<text x="83.40" y="255.50" font-size="6.1" text-anchor="middle" stroke="#231f20" stroke-width="0.1">AML1</text>
<text x="83.40" y="262.70" font-size="6.1" text-anchor="middle" stroke="#231f20" stroke-width="0.1">AF9</text>
<text x="123.30" y="255.50" font-size="6.1" text-anchor="middle" stroke="#231f20" stroke-width="0.1">AML2</text>
<text x="123.30" y="262.70" font-size="6.1" text-anchor="middle" stroke="#231f20" stroke-width="0.1">AF9</text>
<text x="163.40" y="255.50" font-size="6.1" text-anchor="middle" stroke="#231f20" stroke-width="0.1">AML3</text>
<text x="163.40" y="262.70" font-size="6.1" text-anchor="middle" stroke="#231f20" stroke-width="0.1">t(15;17) +TET2mut</text>
<text x="163.40" y="270.30" font-size="6.1" text-anchor="middle" stroke="#231f20" stroke-width="0.1">NPM1 mut FLT-ITD</text>
<text x="203.10" y="255.50" font-size="6.1" text-anchor="middle" stroke="#231f20" stroke-width="0.1">AML4</text>
<text x="203.10" y="262.70" font-size="6.1" text-anchor="middle" stroke="#231f20" stroke-width="0.1">AF9</text>
<text x="243.20" y="255.50" font-size="6.1" text-anchor="middle" stroke="#231f20" stroke-width="0.1">AML5</text>
<text x="243.20" y="262.70" font-size="6.1" text-anchor="middle" stroke="#231f20" stroke-width="0.1">Normal</text>
<text x="243.20" y="270.30" font-size="6.1" text-anchor="middle" stroke="#231f20" stroke-width="0.1">Karyotype</text>
<text x="283.00" y="255.50" font-size="6.1" text-anchor="middle" stroke="#231f20" stroke-width="0.1">AML6</text>
<text x="283.00" y="262.70" font-size="6.1" text-anchor="middle" stroke="#231f20" stroke-width="0.1">t(3;15)+t(11;17)</text>
<text x="337.30" y="149.10" font-size="12.2" font-weight="bold" fill="#111" stroke="#111" stroke-width="0.1">D</text>
<text x="445.50" y="156.00" font-size="8.2" text-anchor="middle" textLength="93.0" lengthAdjust="spacingAndGlyphs" stroke="#231f20" stroke-width="0.1">Max Respiration Capacity</text>
<line x1="376.00" y1="164.20" x2="376.00" y2="235.30" stroke="#1a1a1a" stroke-width="1.1"/>
<line x1="373.80" y1="235.30" x2="376.00" y2="235.30" stroke="#1a1a1a" stroke-width="0.9"/>
<text x="370.40" y="237.39" font-size="5.8" text-anchor="end" fill="#333" stroke="#333" stroke-width="0.1">0.0</text>
<line x1="373.80" y1="221.58" x2="376.00" y2="221.58" stroke="#1a1a1a" stroke-width="0.9"/>
<text x="370.40" y="223.67" font-size="5.8" text-anchor="end" fill="#333" stroke="#333" stroke-width="0.1">0.5</text>
<line x1="373.80" y1="207.86" x2="376.00" y2="207.86" stroke="#1a1a1a" stroke-width="0.9"/>
<text x="370.40" y="209.95" font-size="5.8" text-anchor="end" fill="#333" stroke="#333" stroke-width="0.1">1.0</text>
<line x1="373.80" y1="194.14" x2="376.00" y2="194.14" stroke="#1a1a1a" stroke-width="0.9"/>
<text x="370.40" y="196.23" font-size="5.8" text-anchor="end" fill="#333" stroke="#333" stroke-width="0.1">1.5</text>
<line x1="373.80" y1="180.42" x2="376.00" y2="180.42" stroke="#1a1a1a" stroke-width="0.9"/>
<text x="370.40" y="182.51" font-size="5.8" text-anchor="end" fill="#333" stroke="#333" stroke-width="0.1">2.0</text>
<line x1="373.80" y1="166.70" x2="376.00" y2="166.70" stroke="#1a1a1a" stroke-width="0.9"/>
<text x="370.40" y="168.79" font-size="5.8" text-anchor="end" fill="#333" stroke="#333" stroke-width="0.1">2.5</text>
<line x1="376.00" y1="235.30" x2="514.30" y2="235.30" stroke="#1a1a1a" stroke-width="1.1"/>
<text x="356.20" y="199.70" font-size="6.8" text-anchor="middle" textLength="74" lengthAdjust="spacingAndGlyphs" stroke="#231f20" stroke-width="0.3" transform="rotate(-90 356.20 199.70)">Normalized OCR (pmol/min)</text>
<text x="342.70" y="245.40" font-size="6.0" textLength="27.3" lengthAdjust="spacingAndGlyphs" stroke="#231f20" stroke-width="0.1">Patient ID</text>
<rect x="386.00" y="207.86" width="5.40" height="27.44" fill="#c8c8d2"/>
<rect x="391.80" y="230.36" width="5.40" height="4.94" fill="#3aa935"/>
<line x1="388.70" y1="207.86" x2="388.70" y2="193.32" stroke="#222" stroke-width="0.75"/>
<line x1="387.40" y1="193.32" x2="390.00" y2="193.32" stroke="#222" stroke-width="0.75"/>
<line x1="394.50" y1="230.36" x2="394.50" y2="227.62" stroke="#222" stroke-width="0.75"/>
<line x1="393.20" y1="227.62" x2="395.80" y2="227.62" stroke="#222" stroke-width="0.75"/>
<circle cx="387.90" cy="188.65" r="1.3" fill="#222"/>
<circle cx="389.50" cy="198.53" r="1.3" fill="#222"/>
<circle cx="387.90" cy="216.64" r="1.3" fill="#222"/>
<circle cx="389.50" cy="222.95" r="1.3" fill="#222"/>
<circle cx="393.70" cy="228.17" r="1.2" fill="#1f7a25" stroke="#112" stroke-width="0.4"/>
<circle cx="395.30" cy="231.46" r="1.2" fill="#1f7a25" stroke="#112" stroke-width="0.4"/>
<circle cx="393.70" cy="232.56" r="1.2" fill="#1f7a25" stroke="#112" stroke-width="0.4"/>
<line x1="391.60" y1="235.30" x2="391.60" y2="237.10" stroke="#231f20" stroke-width="0.7"/>
<text x="394.20" y="244.60" font-size="5.9" text-anchor="end" stroke="#231f20" stroke-width="0.1" transform="rotate(-40 394.20 244.60)">AML1</text>
<rect x="408.00" y="208.68" width="5.40" height="26.62" fill="#c8c8d2"/>
<rect x="413.80" y="214.99" width="5.40" height="20.31" fill="#3aa935"/>
<line x1="410.70" y1="208.68" x2="410.70" y2="206.21" stroke="#222" stroke-width="0.75"/>
<line x1="409.40" y1="206.21" x2="412.00" y2="206.21" stroke="#222" stroke-width="0.75"/>
<line x1="416.50" y1="214.99" x2="416.50" y2="213.90" stroke="#222" stroke-width="0.75"/>
<line x1="415.20" y1="213.90" x2="417.80" y2="213.90" stroke="#222" stroke-width="0.75"/>
<circle cx="409.90" cy="206.21" r="1.3" fill="#222"/>
<circle cx="411.50" cy="207.86" r="1.3" fill="#222"/>
<circle cx="409.90" cy="209.78" r="1.3" fill="#222"/>
<circle cx="411.50" cy="210.60" r="1.3" fill="#222"/>
<circle cx="415.70" cy="213.35" r="1.2" fill="#1f7a25" stroke="#112" stroke-width="0.4"/>
<circle cx="417.30" cy="214.72" r="1.2" fill="#1f7a25" stroke="#112" stroke-width="0.4"/>
<circle cx="415.70" cy="215.54" r="1.2" fill="#1f7a25" stroke="#112" stroke-width="0.4"/>
<circle cx="417.30" cy="216.09" r="1.2" fill="#1f7a25" stroke="#112" stroke-width="0.4"/>
<line x1="413.60" y1="235.30" x2="413.60" y2="237.10" stroke="#231f20" stroke-width="0.7"/>
<text x="416.20" y="244.60" font-size="5.9" text-anchor="end" stroke="#231f20" stroke-width="0.1" transform="rotate(-40 416.20 244.60)">AML2</text>
<rect x="429.70" y="207.86" width="5.40" height="27.44" fill="#c8c8d2"/>
<rect x="435.50" y="211.70" width="5.40" height="23.60" fill="#3aa935"/>
<line x1="432.40" y1="207.86" x2="432.40" y2="206.21" stroke="#222" stroke-width="0.75"/>
<line x1="431.10" y1="206.21" x2="433.70" y2="206.21" stroke="#222" stroke-width="0.75"/>
<line x1="438.20" y1="211.70" x2="438.20" y2="210.60" stroke="#222" stroke-width="0.75"/>
<line x1="436.90" y1="210.60" x2="439.50" y2="210.60" stroke="#222" stroke-width="0.75"/>
<circle cx="431.60" cy="205.66" r="1.3" fill="#222"/>
<circle cx="433.20" cy="208.41" r="1.3" fill="#222"/>
<circle cx="431.60" cy="208.96" r="1.3" fill="#222"/>
<circle cx="433.20" cy="210.60" r="1.3" fill="#222"/>
<circle cx="437.40" cy="209.23" r="1.2" fill="#1f7a25" stroke="#112" stroke-width="0.4"/>
<circle cx="439.00" cy="211.70" r="1.2" fill="#1f7a25" stroke="#112" stroke-width="0.4"/>
<circle cx="437.40" cy="213.35" r="1.2" fill="#1f7a25" stroke="#112" stroke-width="0.4"/>
<circle cx="439.00" cy="214.99" r="1.2" fill="#1f7a25" stroke="#112" stroke-width="0.4"/>
<line x1="435.30" y1="235.30" x2="435.30" y2="237.10" stroke="#231f20" stroke-width="0.7"/>
<text x="437.90" y="244.60" font-size="5.9" text-anchor="end" stroke="#231f20" stroke-width="0.1" transform="rotate(-40 437.90 244.60)">AML3</text>
<rect x="451.60" y="208.41" width="5.40" height="26.89" fill="#c8c8d2"/>
<rect x="457.40" y="227.34" width="5.40" height="7.96" fill="#3aa935"/>
<line x1="454.30" y1="208.41" x2="454.30" y2="182.89" stroke="#222" stroke-width="0.75"/>
<line x1="453.00" y1="182.89" x2="455.60" y2="182.89" stroke="#222" stroke-width="0.75"/>
<line x1="460.10" y1="227.34" x2="460.10" y2="216.09" stroke="#222" stroke-width="0.75"/>
<line x1="458.80" y1="216.09" x2="461.40" y2="216.09" stroke="#222" stroke-width="0.75"/>
<circle cx="453.50" cy="173.56" r="1.3" fill="#222"/>
<circle cx="455.10" cy="216.64" r="1.3" fill="#222"/>
<circle cx="453.50" cy="227.07" r="1.3" fill="#222"/>
<circle cx="455.10" cy="232.56" r="1.3" fill="#222"/>
<circle cx="459.30" cy="220.21" r="1.2" fill="#1f7a25" stroke="#112" stroke-width="0.4"/>
<circle cx="460.90" cy="231.18" r="1.2" fill="#1f7a25" stroke="#112" stroke-width="0.4"/>
<circle cx="459.30" cy="233.10" r="1.2" fill="#1f7a25" stroke="#112" stroke-width="0.4"/>
<line x1="457.20" y1="235.30" x2="457.20" y2="237.10" stroke="#231f20" stroke-width="0.7"/>
<text x="459.80" y="244.60" font-size="5.9" text-anchor="end" stroke="#231f20" stroke-width="0.1" transform="rotate(-40 459.80 244.60)">AML4</text>
<rect x="473.40" y="207.86" width="5.40" height="27.44" fill="#c8c8d2"/>
<rect x="479.20" y="211.98" width="5.40" height="23.32" fill="#3aa935"/>
<line x1="476.10" y1="207.86" x2="476.10" y2="206.76" stroke="#222" stroke-width="0.75"/>
<line x1="474.80" y1="206.76" x2="477.40" y2="206.76" stroke="#222" stroke-width="0.75"/>
<line x1="481.90" y1="211.98" x2="481.90" y2="210.60" stroke="#222" stroke-width="0.75"/>
<line x1="480.60" y1="210.60" x2="483.20" y2="210.60" stroke="#222" stroke-width="0.75"/>
<circle cx="475.30" cy="206.49" r="1.3" fill="#222"/>
<circle cx="476.90" cy="207.31" r="1.3" fill="#222"/>
<circle cx="475.30" cy="208.41" r="1.3" fill="#222"/>
<circle cx="476.90" cy="211.98" r="1.3" fill="#222"/>
<circle cx="481.10" cy="210.06" r="1.2" fill="#1f7a25" stroke="#112" stroke-width="0.4"/>
<circle cx="482.70" cy="211.70" r="1.2" fill="#1f7a25" stroke="#112" stroke-width="0.4"/>
<circle cx="481.10" cy="213.90" r="1.2" fill="#1f7a25" stroke="#112" stroke-width="0.4"/>
<circle cx="482.70" cy="220.21" r="1.2" fill="#1f7a25" stroke="#112" stroke-width="0.4"/>
<line x1="479.00" y1="235.30" x2="479.00" y2="237.10" stroke="#231f20" stroke-width="0.7"/>
<text x="481.60" y="244.60" font-size="5.9" text-anchor="end" stroke="#231f20" stroke-width="0.1" transform="rotate(-40 481.60 244.60)">AML5</text>
<rect x="495.10" y="208.41" width="5.40" height="26.89" fill="#c8c8d2"/>
<rect x="500.90" y="191.67" width="5.40" height="43.63" fill="#3aa935"/>
<line x1="497.80" y1="208.41" x2="497.80" y2="195.51" stroke="#222" stroke-width="0.75"/>
<line x1="496.50" y1="195.51" x2="499.10" y2="195.51" stroke="#222" stroke-width="0.75"/>
<line x1="503.60" y1="191.67" x2="503.60" y2="187.28" stroke="#222" stroke-width="0.75"/>
<line x1="502.30" y1="187.28" x2="504.90" y2="187.28" stroke="#222" stroke-width="0.75"/>
<circle cx="497.00" cy="196.06" r="1.3" fill="#222"/>
<circle cx="498.60" cy="207.86" r="1.3" fill="#222"/>
<circle cx="497.00" cy="221.58" r="1.3" fill="#222"/>
<circle cx="502.80" cy="184.54" r="1.2" fill="#1f7a25" stroke="#112" stroke-width="0.4"/>
<circle cx="504.40" cy="190.85" r="1.2" fill="#1f7a25" stroke="#112" stroke-width="0.4"/>
<circle cx="502.80" cy="197.43" r="1.2" fill="#1f7a25" stroke="#112" stroke-width="0.4"/>
<line x1="500.70" y1="235.30" x2="500.70" y2="237.10" stroke="#231f20" stroke-width="0.7"/>
<text x="503.30" y="244.60" font-size="5.9" text-anchor="end" stroke="#231f20" stroke-width="0.1" transform="rotate(-40 503.30 244.60)">AML6</text>
<text x="393.00" y="166.70" font-size="5.6" text-anchor="middle" fill="#444" stroke="#444" stroke-width="0.1">ns</text>
<line x1="389.60" y1="167.60" x2="396.40" y2="167.60" stroke="#555" stroke-width="0.5"/>
<text x="436.60" y="191.40" font-size="5.6" text-anchor="middle" fill="#444" stroke="#444" stroke-width="0.1">ns</text>
<line x1="433.20" y1="192.30" x2="440.00" y2="192.30" stroke="#555" stroke-width="0.5"/>
<text x="458.00" y="170.60" font-size="5.6" text-anchor="middle" fill="#444" stroke="#444" stroke-width="0.1">ns</text>
<line x1="454.60" y1="171.50" x2="461.40" y2="171.50" stroke="#555" stroke-width="0.5"/>
<text x="478.70" y="195.30" font-size="5.6" text-anchor="middle" fill="#444" stroke="#444" stroke-width="0.1">ns</text>
<line x1="475.30" y1="196.20" x2="482.10" y2="196.20" stroke="#555" stroke-width="0.5"/>
<text x="500.80" y="170.60" font-size="5.6" text-anchor="middle" fill="#444" stroke="#444" stroke-width="0.1">ns</text>
<line x1="497.40" y1="171.50" x2="504.20" y2="171.50" stroke="#555" stroke-width="0.5"/>
<text x="415.00" y="193.60" font-size="5.6" text-anchor="middle" fill="#333" stroke="#333" stroke-width="0.1">***</text>
<line x1="411.00" y1="194.40" x2="419.00" y2="194.40" stroke="#555" stroke-width="0.6"/>
<rect x="404.80" y="264.20" width="6.50" height="5.80" fill="#c8c8d2"/>
<text x="413.50" y="269.70" font-size="5.8" fill="#444" stroke="#444" stroke-width="0.1">DMSO</text>
<rect x="440.00" y="264.20" width="6.50" height="5.80" fill="#3aa935"/>
<text x="450.00" y="269.70" font-size="5.8" fill="#444" stroke="#444" stroke-width="0.1">40μM JPH203</text>
<text x="9.60" y="285.70" font-size="12.2" font-weight="bold" fill="#111" stroke="#111" stroke-width="0.1">E</text>
<text x="67.00" y="295.60" font-size="8.2" textLength="159.6" lengthAdjust="spacingAndGlyphs" stroke="#231f20" stroke-width="0.1">Combination Treatment - Annexin V Staining</text>
<line x1="58.65" y1="312.00" x2="58.65" y2="384.30" stroke="#1a1a1a" stroke-width="1.1"/>
<line x1="56.45" y1="384.30" x2="58.65" y2="384.30" stroke="#1a1a1a" stroke-width="0.9"/>
<text x="53.05" y="386.39" font-size="5.8" text-anchor="end" fill="#333" stroke="#333" stroke-width="0.1">0.0</text>
<line x1="56.45" y1="361.43" x2="58.65" y2="361.43" stroke="#1a1a1a" stroke-width="0.9"/>
<text x="53.05" y="363.52" font-size="5.8" text-anchor="end" fill="#333" stroke="#333" stroke-width="0.1">0.5</text>
<line x1="56.45" y1="338.57" x2="58.65" y2="338.57" stroke="#1a1a1a" stroke-width="0.9"/>
<text x="53.05" y="340.65" font-size="5.8" text-anchor="end" fill="#333" stroke="#333" stroke-width="0.1">1.0</text>
<line x1="56.45" y1="315.70" x2="58.65" y2="315.70" stroke="#1a1a1a" stroke-width="0.9"/>
<text x="53.05" y="317.79" font-size="5.8" text-anchor="end" fill="#333" stroke="#333" stroke-width="0.1">1.5</text>
<line x1="58.65" y1="384.30" x2="233.50" y2="384.30" stroke="#1a1a1a" stroke-width="1.1"/>
<text x="28.00" y="348.50" font-size="7.6" text-anchor="middle" textLength="52" lengthAdjust="spacingAndGlyphs" stroke="#231f20" stroke-width="0.3" transform="rotate(-90 28.00 348.50)">Normalized number</text>
<text x="38.60" y="348.80" font-size="7.6" text-anchor="middle" textLength="30" lengthAdjust="spacingAndGlyphs" stroke="#231f20" stroke-width="0.3" transform="rotate(-90 38.60 348.80)">of live cells</text>
<text x="34.80" y="395.60" font-size="6.0" textLength="26.0" lengthAdjust="spacingAndGlyphs" stroke="#231f20" stroke-width="0.1">Patient ID</text>
<rect x="62.10" y="339.25" width="5.70" height="45.05" fill="#c6c6d0"/>
<rect x="68.40" y="365.55" width="5.70" height="18.75" fill="#1b6a45"/>
<rect x="74.70" y="340.40" width="5.70" height="43.90" fill="#f6c415"/>
<rect x="81.00" y="372.41" width="5.70" height="11.89" fill="#b7c98f"/>
<line x1="64.95" y1="339.25" x2="64.95" y2="333.08" stroke="#222" stroke-width="0.75"/>
<line x1="63.75" y1="333.08" x2="66.15" y2="333.08" stroke="#222" stroke-width="0.75"/>
<circle cx="63.35" cy="333.08" r="1.5" fill="#2b3248"/>
<circle cx="64.95" cy="335.82" r="1.5" fill="#2b3248"/>
<circle cx="66.55" cy="338.57" r="1.5" fill="#2b3248"/>
<circle cx="63.35" cy="341.77" r="1.5" fill="#2b3248"/>
<circle cx="64.95" cy="343.14" r="1.5" fill="#2b3248"/>
<line x1="71.25" y1="365.55" x2="71.25" y2="359.60" stroke="#222" stroke-width="0.75"/>
<line x1="70.05" y1="359.60" x2="72.45" y2="359.60" stroke="#222" stroke-width="0.75"/>
<circle cx="69.65" cy="359.60" r="1.5" fill="#18382a"/>
<circle cx="71.25" cy="361.89" r="1.5" fill="#18382a"/>
<circle cx="72.85" cy="364.63" r="1.5" fill="#18382a"/>
<circle cx="69.65" cy="366.46" r="1.5" fill="#18382a"/>
<line x1="77.55" y1="340.40" x2="77.55" y2="333.08" stroke="#222" stroke-width="0.75"/>
<line x1="76.35" y1="333.08" x2="78.75" y2="333.08" stroke="#222" stroke-width="0.75"/>
<circle cx="75.95" cy="333.08" r="1.35" fill="#fff" stroke="#7a5a08" stroke-width="0.75"/>
<circle cx="77.55" cy="335.82" r="1.35" fill="#fff" stroke="#7a5a08" stroke-width="0.75"/>
<circle cx="79.15" cy="338.11" r="1.35" fill="#fff" stroke="#7a5a08" stroke-width="0.75"/>
<circle cx="75.95" cy="343.14" r="1.35" fill="#fff" stroke="#7a5a08" stroke-width="0.75"/>
<circle cx="77.55" cy="349.09" r="1.35" fill="#fff" stroke="#7a5a08" stroke-width="0.75"/>
<line x1="83.85" y1="372.41" x2="83.85" y2="371.04" stroke="#222" stroke-width="0.75"/>
<line x1="82.65" y1="371.04" x2="85.05" y2="371.04" stroke="#222" stroke-width="0.75"/>
<circle cx="82.25" cy="371.04" r="1.35" fill="#fff" stroke="#5f6b3a" stroke-width="0.75"/>
<circle cx="83.85" cy="371.95" r="1.35" fill="#fff" stroke="#5f6b3a" stroke-width="0.75"/>
<circle cx="85.45" cy="374.24" r="1.35" fill="#fff" stroke="#5f6b3a" stroke-width="0.75"/>
<line x1="74.50" y1="384.30" x2="74.50" y2="386.10" stroke="#231f20" stroke-width="0.7"/>
<rect x="90.90" y="340.85" width="5.70" height="43.45" fill="#c6c6d0"/>
<rect x="97.20" y="350.91" width="5.70" height="33.39" fill="#1b6a45"/>
<rect x="103.50" y="355.95" width="5.70" height="28.35" fill="#f6c415"/>
<rect x="109.80" y="361.43" width="5.70" height="22.87" fill="#b7c98f"/>
<line x1="93.75" y1="340.85" x2="93.75" y2="334.91" stroke="#222" stroke-width="0.75"/>
<line x1="92.55" y1="334.91" x2="94.95" y2="334.91" stroke="#222" stroke-width="0.75"/>
<circle cx="92.15" cy="334.91" r="1.5" fill="#2b3248"/>
<circle cx="93.75" cy="336.28" r="1.5" fill="#2b3248"/>
<circle cx="95.35" cy="340.85" r="1.5" fill="#2b3248"/>
<circle cx="92.15" cy="342.23" r="1.5" fill="#2b3248"/>
<circle cx="98.45" cy="350.91" r="1.5" fill="#18382a"/>
<circle cx="100.05" cy="351.83" r="1.5" fill="#18382a"/>
<circle cx="101.65" cy="352.74" r="1.5" fill="#18382a"/>
<line x1="106.35" y1="355.95" x2="106.35" y2="352.74" stroke="#222" stroke-width="0.75"/>
<line x1="105.15" y1="352.74" x2="107.55" y2="352.74" stroke="#222" stroke-width="0.75"/>
<circle cx="104.75" cy="352.74" r="1.35" fill="#fff" stroke="#7a5a08" stroke-width="0.75"/>
<circle cx="106.35" cy="355.95" r="1.35" fill="#fff" stroke="#7a5a08" stroke-width="0.75"/>
<circle cx="107.95" cy="358.69" r="1.35" fill="#fff" stroke="#7a5a08" stroke-width="0.75"/>
<circle cx="104.75" cy="360.52" r="1.35" fill="#fff" stroke="#7a5a08" stroke-width="0.75"/>
<line x1="112.65" y1="361.43" x2="112.65" y2="359.60" stroke="#222" stroke-width="0.75"/>
<line x1="111.45" y1="359.60" x2="113.85" y2="359.60" stroke="#222" stroke-width="0.75"/>
<circle cx="111.05" cy="359.60" r="1.35" fill="#fff" stroke="#5f6b3a" stroke-width="0.75"/>
<circle cx="112.65" cy="362.35" r="1.35" fill="#fff" stroke="#5f6b3a" stroke-width="0.75"/>
<circle cx="114.25" cy="364.18" r="1.35" fill="#fff" stroke="#5f6b3a" stroke-width="0.75"/>
<line x1="103.30" y1="384.30" x2="103.30" y2="386.10" stroke="#231f20" stroke-width="0.7"/>
<rect x="119.70" y="339.94" width="5.70" height="44.36" fill="#c6c6d0"/>
<rect x="126.00" y="341.31" width="5.70" height="42.99" fill="#1b6a45"/>
<rect x="132.30" y="358.69" width="5.70" height="25.61" fill="#f6c415"/>
<rect x="138.60" y="382.01" width="5.70" height="2.29" fill="#b7c98f"/>
<line x1="122.55" y1="339.94" x2="122.55" y2="328.96" stroke="#222" stroke-width="0.75"/>
<line x1="121.35" y1="328.96" x2="123.75" y2="328.96" stroke="#222" stroke-width="0.75"/>
<circle cx="120.95" cy="328.96" r="1.5" fill="#2b3248"/>
<circle cx="122.55" cy="331.25" r="1.5" fill="#2b3248"/>
<circle cx="124.15" cy="342.23" r="1.5" fill="#2b3248"/>
<circle cx="120.95" cy="347.26" r="1.5" fill="#2b3248"/>
<line x1="128.85" y1="341.31" x2="128.85" y2="324.85" stroke="#222" stroke-width="0.75"/>
<line x1="127.65" y1="324.85" x2="130.05" y2="324.85" stroke="#222" stroke-width="0.75"/>
<circle cx="127.25" cy="338.57" r="1.5" fill="#18382a"/>
<circle cx="128.85" cy="345.43" r="1.5" fill="#18382a"/>
<circle cx="130.45" cy="350.00" r="1.5" fill="#18382a"/>
<line x1="135.15" y1="358.69" x2="135.15" y2="355.03" stroke="#222" stroke-width="0.75"/>
<line x1="133.95" y1="355.03" x2="136.35" y2="355.03" stroke="#222" stroke-width="0.75"/>
<circle cx="133.55" cy="355.03" r="1.35" fill="#fff" stroke="#7a5a08" stroke-width="0.75"/>
<circle cx="135.15" cy="357.32" r="1.35" fill="#fff" stroke="#7a5a08" stroke-width="0.75"/>
<circle cx="136.75" cy="361.43" r="1.35" fill="#fff" stroke="#7a5a08" stroke-width="0.75"/>
<circle cx="133.55" cy="362.35" r="1.35" fill="#fff" stroke="#7a5a08" stroke-width="0.75"/>
<line x1="141.45" y1="382.01" x2="141.45" y2="380.64" stroke="#222" stroke-width="0.75"/>
<line x1="140.25" y1="380.64" x2="142.65" y2="380.64" stroke="#222" stroke-width="0.75"/>
<circle cx="139.85" cy="380.64" r="1.35" fill="#fff" stroke="#5f6b3a" stroke-width="0.75"/>
<circle cx="141.45" cy="382.01" r="1.35" fill="#fff" stroke="#5f6b3a" stroke-width="0.75"/>
<circle cx="143.05" cy="381.56" r="1.35" fill="#fff" stroke="#5f6b3a" stroke-width="0.75"/>
<line x1="132.10" y1="384.30" x2="132.10" y2="386.10" stroke="#231f20" stroke-width="0.7"/>
<rect x="148.50" y="339.02" width="5.70" height="45.28" fill="#c6c6d0"/>
<rect x="154.80" y="347.71" width="5.70" height="36.59" fill="#1b6a45"/>
<rect x="161.10" y="365.55" width="5.70" height="18.75" fill="#f6c415"/>
<rect x="167.40" y="375.15" width="5.70" height="9.15" fill="#b7c98f"/>
<line x1="151.35" y1="339.02" x2="151.35" y2="328.51" stroke="#222" stroke-width="0.75"/>
<line x1="150.15" y1="328.51" x2="152.55" y2="328.51" stroke="#222" stroke-width="0.75"/>
<circle cx="149.75" cy="328.51" r="1.5" fill="#2b3248"/>
<circle cx="151.35" cy="333.08" r="1.5" fill="#2b3248"/>
<circle cx="152.95" cy="335.37" r="1.5" fill="#2b3248"/>
<circle cx="149.75" cy="345.88" r="1.5" fill="#2b3248"/>
<circle cx="151.35" cy="348.63" r="1.5" fill="#2b3248"/>
<line x1="157.65" y1="347.71" x2="157.65" y2="346.80" stroke="#222" stroke-width="0.75"/>
<line x1="156.45" y1="346.80" x2="158.85" y2="346.80" stroke="#222" stroke-width="0.75"/>
<circle cx="156.05" cy="346.80" r="1.5" fill="#18382a"/>
<circle cx="157.65" cy="348.17" r="1.5" fill="#18382a"/>
<circle cx="159.25" cy="349.54" r="1.5" fill="#18382a"/>
<line x1="163.95" y1="365.55" x2="163.95" y2="364.63" stroke="#222" stroke-width="0.75"/>
<line x1="162.75" y1="364.63" x2="165.15" y2="364.63" stroke="#222" stroke-width="0.75"/>
<circle cx="162.35" cy="364.63" r="1.35" fill="#fff" stroke="#7a5a08" stroke-width="0.75"/>
<circle cx="163.95" cy="368.29" r="1.35" fill="#fff" stroke="#7a5a08" stroke-width="0.75"/>
<circle cx="165.55" cy="370.12" r="1.35" fill="#fff" stroke="#7a5a08" stroke-width="0.75"/>
<line x1="170.25" y1="375.15" x2="170.25" y2="372.41" stroke="#222" stroke-width="0.75"/>
<line x1="169.05" y1="372.41" x2="171.45" y2="372.41" stroke="#222" stroke-width="0.75"/>
<circle cx="168.65" cy="372.41" r="1.35" fill="#fff" stroke="#5f6b3a" stroke-width="0.75"/>
<circle cx="170.25" cy="375.15" r="1.35" fill="#fff" stroke="#5f6b3a" stroke-width="0.75"/>
<circle cx="171.85" cy="376.98" r="1.35" fill="#fff" stroke="#5f6b3a" stroke-width="0.75"/>
<line x1="160.90" y1="384.30" x2="160.90" y2="386.10" stroke="#231f20" stroke-width="0.7"/>
<rect x="177.30" y="339.94" width="5.70" height="44.36" fill="#c6c6d0"/>
<rect x="183.60" y="343.14" width="5.70" height="41.16" fill="#1b6a45"/>
<rect x="189.90" y="346.80" width="5.70" height="37.50" fill="#f6c415"/>
<rect x="196.20" y="359.60" width="5.70" height="24.70" fill="#b7c98f"/>
<line x1="180.15" y1="339.94" x2="180.15" y2="328.51" stroke="#222" stroke-width="0.75"/>
<line x1="178.95" y1="328.51" x2="181.35" y2="328.51" stroke="#222" stroke-width="0.75"/>
<circle cx="178.55" cy="328.05" r="1.5" fill="#2b3248"/>
<circle cx="180.15" cy="333.08" r="1.5" fill="#2b3248"/>
<circle cx="181.75" cy="340.85" r="1.5" fill="#2b3248"/>
<circle cx="178.55" cy="346.80" r="1.5" fill="#2b3248"/>
<line x1="186.45" y1="343.14" x2="186.45" y2="336.28" stroke="#222" stroke-width="0.75"/>
<line x1="185.25" y1="336.28" x2="187.65" y2="336.28" stroke="#222" stroke-width="0.75"/>
<circle cx="184.85" cy="336.28" r="1.5" fill="#18382a"/>
<circle cx="186.45" cy="340.85" r="1.5" fill="#18382a"/>
<circle cx="188.05" cy="342.23" r="1.5" fill="#18382a"/>
<line x1="192.75" y1="346.80" x2="192.75" y2="337.19" stroke="#222" stroke-width="0.75"/>
<line x1="191.55" y1="337.19" x2="193.95" y2="337.19" stroke="#222" stroke-width="0.75"/>
<circle cx="191.15" cy="337.19" r="1.35" fill="#fff" stroke="#7a5a08" stroke-width="0.75"/>
<circle cx="192.75" cy="339.94" r="1.35" fill="#fff" stroke="#7a5a08" stroke-width="0.75"/>
<circle cx="194.35" cy="350.00" r="1.35" fill="#fff" stroke="#7a5a08" stroke-width="0.75"/>
<circle cx="191.15" cy="351.83" r="1.35" fill="#fff" stroke="#7a5a08" stroke-width="0.75"/>
<line x1="199.05" y1="359.60" x2="199.05" y2="353.66" stroke="#222" stroke-width="0.75"/>
<line x1="197.85" y1="353.66" x2="200.25" y2="353.66" stroke="#222" stroke-width="0.75"/>
<circle cx="197.45" cy="353.66" r="1.35" fill="#fff" stroke="#5f6b3a" stroke-width="0.75"/>
<circle cx="199.05" cy="360.52" r="1.35" fill="#fff" stroke="#5f6b3a" stroke-width="0.75"/>
<circle cx="200.65" cy="362.35" r="1.35" fill="#fff" stroke="#5f6b3a" stroke-width="0.75"/>
<line x1="189.70" y1="384.30" x2="189.70" y2="386.10" stroke="#231f20" stroke-width="0.7"/>
<rect x="206.10" y="340.85" width="5.70" height="43.45" fill="#c6c6d0"/>
<rect x="212.40" y="357.77" width="5.70" height="26.53" fill="#1b6a45"/>
<rect x="218.70" y="370.12" width="5.70" height="14.18" fill="#f6c415"/>
<rect x="225.00" y="374.24" width="5.70" height="10.06" fill="#b7c98f"/>
<line x1="208.95" y1="340.85" x2="208.95" y2="331.71" stroke="#222" stroke-width="0.75"/>
<line x1="207.75" y1="331.71" x2="210.15" y2="331.71" stroke="#222" stroke-width="0.75"/>
<circle cx="207.35" cy="331.71" r="1.5" fill="#2b3248"/>
<circle cx="208.95" cy="338.11" r="1.5" fill="#2b3248"/>
<circle cx="210.55" cy="339.94" r="1.5" fill="#2b3248"/>
<circle cx="207.35" cy="342.23" r="1.5" fill="#2b3248"/>
<line x1="215.25" y1="357.77" x2="215.25" y2="354.57" stroke="#222" stroke-width="0.75"/>
<line x1="214.05" y1="354.57" x2="216.45" y2="354.57" stroke="#222" stroke-width="0.75"/>
<circle cx="213.65" cy="354.57" r="1.5" fill="#18382a"/>
<circle cx="215.25" cy="356.40" r="1.5" fill="#18382a"/>
<circle cx="216.85" cy="358.69" r="1.5" fill="#18382a"/>
<line x1="221.55" y1="370.12" x2="221.55" y2="369.21" stroke="#222" stroke-width="0.75"/>
<line x1="220.35" y1="369.21" x2="222.75" y2="369.21" stroke="#222" stroke-width="0.75"/>
<circle cx="219.95" cy="369.21" r="1.35" fill="#fff" stroke="#7a5a08" stroke-width="0.75"/>
<circle cx="221.55" cy="369.67" r="1.35" fill="#fff" stroke="#7a5a08" stroke-width="0.75"/>
<circle cx="223.15" cy="370.12" r="1.35" fill="#fff" stroke="#7a5a08" stroke-width="0.75"/>
<line x1="227.85" y1="374.24" x2="227.85" y2="373.32" stroke="#222" stroke-width="0.75"/>
<line x1="226.65" y1="373.32" x2="229.05" y2="373.32" stroke="#222" stroke-width="0.75"/>
<circle cx="226.25" cy="373.32" r="1.35" fill="#fff" stroke="#5f6b3a" stroke-width="0.75"/>
<circle cx="227.85" cy="374.24" r="1.35" fill="#fff" stroke="#5f6b3a" stroke-width="0.75"/>
<circle cx="229.45" cy="375.61" r="1.35" fill="#fff" stroke="#5f6b3a" stroke-width="0.75"/>
<line x1="218.50" y1="384.30" x2="218.50" y2="386.10" stroke="#231f20" stroke-width="0.7"/>
<line x1="74.70" y1="321.60" x2="84.20" y2="321.60" stroke="#333" stroke-width="0.6"/>
<text x="75.60" y="322.70" font-size="5.6" fill="#333" stroke="#333" stroke-width="0.1">****</text>
<line x1="69.50" y1="325.10" x2="84.20" y2="325.10" stroke="#333" stroke-width="0.6"/>
<text x="69.50" y="324.20" font-size="5.6" fill="#333" stroke="#333" stroke-width="0.1">ns</text>
<line x1="65.20" y1="330.30" x2="84.20" y2="330.30" stroke="#333" stroke-width="0.6"/>
<text x="69.50" y="331.40" font-size="5.6" fill="#333" stroke="#333" stroke-width="0.1">****</text>
<line x1="105.80" y1="323.40" x2="111.90" y2="323.40" stroke="#333" stroke-width="0.6"/>
<text x="106.40" y="322.50" font-size="5.6" fill="#333" stroke="#333" stroke-width="0.1">ns</text>
<line x1="98.40" y1="327.70" x2="111.90" y2="327.70" stroke="#333" stroke-width="0.6"/>
<text x="98.40" y="326.80" font-size="5.6" fill="#333" stroke="#333" stroke-width="0.1">ns</text>
<line x1="93.70" y1="332.90" x2="111.90" y2="332.90" stroke="#333" stroke-width="0.6"/>
<text x="98.40" y="334.00" font-size="5.6" fill="#333" stroke="#333" stroke-width="0.1">****</text>
<line x1="133.50" y1="312.50" x2="141.30" y2="312.50" stroke="#333" stroke-width="0.6"/>
<text x="133.50" y="313.60" font-size="5.6" fill="#333" stroke="#333" stroke-width="0.1">****</text>
<line x1="126.60" y1="316.40" x2="141.30" y2="316.40" stroke="#333" stroke-width="0.6"/>
<text x="129.20" y="317.50" font-size="5.6" fill="#333" stroke="#333" stroke-width="0.1">****</text>
<line x1="122.30" y1="320.40" x2="141.30" y2="320.40" stroke="#333" stroke-width="0.6"/>
<text x="126.60" y="321.50" font-size="5.6" fill="#333" stroke="#333" stroke-width="0.1">****</text>
<line x1="163.00" y1="316.80" x2="171.00" y2="316.80" stroke="#333" stroke-width="0.6"/>
<text x="163.70" y="315.90" font-size="5.6" fill="#333" stroke="#333" stroke-width="0.1">ns</text>
<line x1="156.20" y1="321.10" x2="171.00" y2="321.10" stroke="#333" stroke-width="0.6"/>
<text x="158.80" y="322.20" font-size="5.6" fill="#333" stroke="#333" stroke-width="0.1">****</text>
<line x1="151.60" y1="325.60" x2="171.00" y2="325.60" stroke="#333" stroke-width="0.6"/>
<text x="156.20" y="326.70" font-size="5.6" fill="#333" stroke="#333" stroke-width="0.1">****</text>
<line x1="190.80" y1="316.40" x2="197.80" y2="316.40" stroke="#333" stroke-width="0.6"/>
<text x="193.40" y="317.50" font-size="5.6" fill="#333" stroke="#333" stroke-width="0.1">**</text>
<line x1="183.90" y1="321.10" x2="197.80" y2="321.10" stroke="#333" stroke-width="0.6"/>
<text x="188.30" y="322.20" font-size="5.6" fill="#333" stroke="#333" stroke-width="0.1">***</text>
<line x1="179.30" y1="325.60" x2="197.80" y2="325.60" stroke="#333" stroke-width="0.6"/>
<text x="180.50" y="326.70" font-size="5.6" fill="#333" stroke="#333" stroke-width="0.1">****</text>
<line x1="220.00" y1="319.40" x2="228.00" y2="319.40" stroke="#333" stroke-width="0.6"/>
<text x="221.10" y="318.50" font-size="5.6" fill="#333" stroke="#333" stroke-width="0.1">ns</text>
<line x1="214.20" y1="323.40" x2="228.00" y2="323.40" stroke="#333" stroke-width="0.6"/>
<text x="217.70" y="324.50" font-size="5.6" fill="#333" stroke="#333" stroke-width="0.1">***</text>
<line x1="209.00" y1="327.70" x2="228.00" y2="327.70" stroke="#333" stroke-width="0.6"/>
<text x="213.30" y="328.80" font-size="5.6" fill="#333" stroke="#333" stroke-width="0.1">****</text>
<text x="74.50" y="395.60" font-size="6.1" text-anchor="middle" stroke="#231f20" stroke-width="0.1">AML7</text>
<text x="74.50" y="413.80" font-size="6.1" text-anchor="middle" stroke="#231f20" stroke-width="0.1">0.57</text>
<text x="103.30" y="395.60" font-size="6.1" text-anchor="middle" stroke="#231f20" stroke-width="0.1">AML8</text>
<text x="103.30" y="404.20" font-size="6.1" text-anchor="middle" stroke="#231f20" stroke-width="0.1">t(8;11)</text>
<text x="103.30" y="413.80" font-size="6.1" text-anchor="middle" stroke="#231f20" stroke-width="0.1">1.17</text>
<text x="132.10" y="395.60" font-size="6.1" text-anchor="middle" stroke="#231f20" stroke-width="0.1">AML9</text>
<text x="132.10" y="413.80" font-size="6.1" text-anchor="middle" stroke="#231f20" stroke-width="0.1">0.15</text>
<text x="160.90" y="395.60" font-size="6.1" text-anchor="middle" stroke="#231f20" stroke-width="0.1">AML10</text>
<text x="160.90" y="404.20" font-size="6.1" text-anchor="middle" stroke="#231f20" stroke-width="0.1">AF9</text>
<text x="160.90" y="413.80" font-size="6.1" text-anchor="middle" stroke="#231f20" stroke-width="0.1">0.61</text>
<text x="189.70" y="395.60" font-size="6.1" text-anchor="middle" stroke="#231f20" stroke-width="0.1">AML11</text>
<text x="189.70" y="413.80" font-size="6.1" text-anchor="middle" stroke="#231f20" stroke-width="0.1">0.73</text>
<text x="218.50" y="395.60" font-size="6.1" text-anchor="middle" stroke="#231f20" stroke-width="0.1">AML12</text>
<text x="218.50" y="413.80" font-size="6.1" text-anchor="middle" stroke="#231f20" stroke-width="0.1">1.00</text>
<text x="48.70" y="413.80" font-size="6.1" text-anchor="middle" stroke="#231f20" stroke-width="0.1">CDI</text>
<text x="240.50" y="285.70" font-size="12.2" font-weight="bold" fill="#111" stroke="#111" stroke-width="0.1">F</text>
<text x="323.40" y="295.50" font-size="8.2" text-anchor="middle" textLength="93.6" lengthAdjust="spacingAndGlyphs" stroke="#231f20" stroke-width="0.1">Max Respiration Capacity</text>
<line x1="281.40" y1="312.00" x2="281.40" y2="384.30" stroke="#1a1a1a" stroke-width="1.1"/>
<line x1="279.20" y1="384.30" x2="281.40" y2="384.30" stroke="#1a1a1a" stroke-width="0.9"/>
<text x="275.80" y="386.39" font-size="5.8" text-anchor="end" fill="#333" stroke="#333" stroke-width="0.1">0.0</text>
<line x1="279.20" y1="361.50" x2="281.40" y2="361.50" stroke="#1a1a1a" stroke-width="0.9"/>
<text x="275.80" y="363.59" font-size="5.8" text-anchor="end" fill="#333" stroke="#333" stroke-width="0.1">0.5</text>
<line x1="279.20" y1="338.70" x2="281.40" y2="338.70" stroke="#1a1a1a" stroke-width="0.9"/>
<text x="275.80" y="340.79" font-size="5.8" text-anchor="end" fill="#333" stroke="#333" stroke-width="0.1">1.0</text>
<line x1="279.20" y1="315.90" x2="281.40" y2="315.90" stroke="#1a1a1a" stroke-width="0.9"/>
<text x="275.80" y="317.99" font-size="5.8" text-anchor="end" fill="#333" stroke="#333" stroke-width="0.1">1.5</text>
<line x1="281.40" y1="384.30" x2="362.60" y2="384.30" stroke="#1a1a1a" stroke-width="1.1"/>
<text x="260.60" y="349.00" font-size="6.8" text-anchor="middle" textLength="72.7" lengthAdjust="spacingAndGlyphs" stroke="#231f20" stroke-width="0.3" transform="rotate(-90 260.60 349.00)">Normalized OCR (pmol/min)</text>
<text x="255.00" y="396.00" font-size="6.0" textLength="26.0" lengthAdjust="spacingAndGlyphs" stroke="#231f20" stroke-width="0.1">Patient ID</text>
<rect x="285.00" y="340.07" width="5.50" height="44.23" fill="#c6c6d0"/>
<rect x="291.00" y="346.45" width="5.50" height="37.85" fill="#1b6a45"/>
<rect x="297.00" y="360.59" width="5.50" height="23.71" fill="#f6c415"/>
<rect x="303.00" y="372.90" width="5.50" height="11.40" fill="#b7c98f"/>
<line x1="287.75" y1="340.07" x2="287.75" y2="334.14" stroke="#222" stroke-width="0.75"/>
<line x1="286.55" y1="334.14" x2="288.95" y2="334.14" stroke="#222" stroke-width="0.75"/>
<circle cx="286.15" cy="330.49" r="1.5" fill="#2b3248"/>
<circle cx="287.75" cy="336.42" r="1.5" fill="#2b3248"/>
<circle cx="289.35" cy="338.70" r="1.5" fill="#2b3248"/>
<circle cx="286.15" cy="340.52" r="1.5" fill="#2b3248"/>
<circle cx="287.75" cy="343.26" r="1.5" fill="#2b3248"/>
<line x1="293.75" y1="346.45" x2="293.75" y2="338.70" stroke="#222" stroke-width="0.75"/>
<line x1="292.55" y1="338.70" x2="294.95" y2="338.70" stroke="#222" stroke-width="0.75"/>
<circle cx="292.15" cy="338.70" r="1.5" fill="#18382a"/>
<circle cx="293.75" cy="340.52" r="1.5" fill="#18382a"/>
<circle cx="295.35" cy="341.44" r="1.5" fill="#18382a"/>
<line x1="299.75" y1="360.59" x2="299.75" y2="351.92" stroke="#222" stroke-width="0.75"/>
<line x1="298.55" y1="351.92" x2="300.95" y2="351.92" stroke="#222" stroke-width="0.75"/>
<circle cx="298.15" cy="346.00" r="1.35" fill="#fff" stroke="#7a5a08" stroke-width="0.75"/>
<circle cx="299.75" cy="360.59" r="1.35" fill="#fff" stroke="#7a5a08" stroke-width="0.75"/>
<circle cx="301.35" cy="361.96" r="1.35" fill="#fff" stroke="#7a5a08" stroke-width="0.75"/>
<circle cx="298.15" cy="363.32" r="1.35" fill="#fff" stroke="#7a5a08" stroke-width="0.75"/>
<line x1="305.75" y1="372.90" x2="305.75" y2="366.52" stroke="#222" stroke-width="0.75"/>
<line x1="304.55" y1="366.52" x2="306.95" y2="366.52" stroke="#222" stroke-width="0.75"/>
<circle cx="304.15" cy="366.52" r="1.35" fill="#fff" stroke="#5f6b3a" stroke-width="0.75"/>
<circle cx="305.75" cy="372.90" r="1.35" fill="#fff" stroke="#5f6b3a" stroke-width="0.75"/>
<circle cx="307.35" cy="374.72" r="1.35" fill="#fff" stroke="#5f6b3a" stroke-width="0.75"/>
<circle cx="304.15" cy="376.09" r="1.35" fill="#fff" stroke="#5f6b3a" stroke-width="0.75"/>
<line x1="296.50" y1="384.30" x2="296.50" y2="386.10" stroke="#231f20" stroke-width="0.7"/>
<rect x="311.60" y="340.52" width="5.50" height="43.78" fill="#c6c6d0"/>
<rect x="317.60" y="349.19" width="5.50" height="35.11" fill="#1b6a45"/>
<rect x="323.60" y="359.68" width="5.50" height="24.62" fill="#f6c415"/>
<rect x="329.60" y="372.90" width="5.50" height="11.40" fill="#b7c98f"/>
<line x1="314.35" y1="340.52" x2="314.35" y2="332.77" stroke="#222" stroke-width="0.75"/>
<line x1="313.15" y1="332.77" x2="315.55" y2="332.77" stroke="#222" stroke-width="0.75"/>
<circle cx="312.75" cy="328.67" r="1.5" fill="#2b3248"/>
<circle cx="314.35" cy="338.70" r="1.5" fill="#2b3248"/>
<circle cx="315.95" cy="340.52" r="1.5" fill="#2b3248"/>
<circle cx="312.75" cy="342.35" r="1.5" fill="#2b3248"/>
<line x1="320.35" y1="349.19" x2="320.35" y2="342.35" stroke="#222" stroke-width="0.75"/>
<line x1="319.15" y1="342.35" x2="321.55" y2="342.35" stroke="#222" stroke-width="0.75"/>
<circle cx="318.75" cy="337.33" r="1.5" fill="#18382a"/>
<circle cx="320.35" cy="348.73" r="1.5" fill="#18382a"/>
<circle cx="321.95" cy="350.56" r="1.5" fill="#18382a"/>
<line x1="326.35" y1="359.68" x2="326.35" y2="346.91" stroke="#222" stroke-width="0.75"/>
<line x1="325.15" y1="346.91" x2="327.55" y2="346.91" stroke="#222" stroke-width="0.75"/>
<circle cx="324.75" cy="337.33" r="1.35" fill="#fff" stroke="#7a5a08" stroke-width="0.75"/>
<circle cx="326.35" cy="359.68" r="1.35" fill="#fff" stroke="#7a5a08" stroke-width="0.75"/>
<circle cx="327.95" cy="362.41" r="1.35" fill="#fff" stroke="#7a5a08" stroke-width="0.75"/>
<circle cx="324.75" cy="365.60" r="1.35" fill="#fff" stroke="#7a5a08" stroke-width="0.75"/>
<line x1="332.35" y1="372.90" x2="332.35" y2="364.24" stroke="#222" stroke-width="0.75"/>
<line x1="331.15" y1="364.24" x2="333.55" y2="364.24" stroke="#222" stroke-width="0.75"/>
<circle cx="330.75" cy="364.24" r="1.35" fill="#fff" stroke="#5f6b3a" stroke-width="0.75"/>
<circle cx="332.35" cy="372.90" r="1.35" fill="#fff" stroke="#5f6b3a" stroke-width="0.75"/>
<circle cx="333.95" cy="374.72" r="1.35" fill="#fff" stroke="#5f6b3a" stroke-width="0.75"/>
<line x1="323.10" y1="384.30" x2="323.10" y2="386.10" stroke="#231f20" stroke-width="0.7"/>
<rect x="338.20" y="334.14" width="5.50" height="50.16" fill="#c6c6d0"/>
<rect x="344.20" y="333.68" width="5.50" height="50.62" fill="#1b6a45"/>
<rect x="350.20" y="340.52" width="5.50" height="43.78" fill="#f6c415"/>
<rect x="356.20" y="349.19" width="5.50" height="35.11" fill="#b7c98f"/>
<line x1="340.95" y1="334.14" x2="340.95" y2="328.67" stroke="#222" stroke-width="0.75"/>
<line x1="339.75" y1="328.67" x2="342.15" y2="328.67" stroke="#222" stroke-width="0.75"/>
<circle cx="339.35" cy="330.95" r="1.5" fill="#2b3248"/>
<circle cx="340.95" cy="331.86" r="1.5" fill="#2b3248"/>
<circle cx="342.55" cy="340.52" r="1.5" fill="#2b3248"/>
<circle cx="339.35" cy="351.01" r="1.5" fill="#2b3248"/>
<line x1="346.95" y1="333.68" x2="346.95" y2="322.28" stroke="#222" stroke-width="0.75"/>
<line x1="345.75" y1="322.28" x2="348.15" y2="322.28" stroke="#222" stroke-width="0.75"/>
<circle cx="345.35" cy="322.28" r="1.5" fill="#18382a"/>
<circle cx="346.95" cy="330.95" r="1.5" fill="#18382a"/>
<circle cx="348.55" cy="338.70" r="1.5" fill="#18382a"/>
<line x1="352.95" y1="340.52" x2="352.95" y2="331.86" stroke="#222" stroke-width="0.75"/>
<line x1="351.75" y1="331.86" x2="354.15" y2="331.86" stroke="#222" stroke-width="0.75"/>
<circle cx="351.35" cy="331.86" r="1.35" fill="#fff" stroke="#7a5a08" stroke-width="0.75"/>
<circle cx="352.95" cy="333.68" r="1.35" fill="#fff" stroke="#7a5a08" stroke-width="0.75"/>
<circle cx="354.55" cy="340.52" r="1.35" fill="#fff" stroke="#7a5a08" stroke-width="0.75"/>
<circle cx="351.35" cy="347.82" r="1.35" fill="#fff" stroke="#7a5a08" stroke-width="0.75"/>
<circle cx="352.95" cy="351.01" r="1.35" fill="#fff" stroke="#7a5a08" stroke-width="0.75"/>
<line x1="358.95" y1="349.19" x2="358.95" y2="344.17" stroke="#222" stroke-width="0.75"/>
<line x1="357.75" y1="344.17" x2="360.15" y2="344.17" stroke="#222" stroke-width="0.75"/>
<circle cx="357.35" cy="344.17" r="1.35" fill="#fff" stroke="#5f6b3a" stroke-width="0.75"/>
<circle cx="358.95" cy="348.28" r="1.35" fill="#fff" stroke="#5f6b3a" stroke-width="0.75"/>
<circle cx="360.55" cy="350.10" r="1.35" fill="#fff" stroke="#5f6b3a" stroke-width="0.75"/>
<line x1="349.70" y1="384.30" x2="349.70" y2="386.10" stroke="#231f20" stroke-width="0.7"/>
<line x1="299.00" y1="318.20" x2="306.00" y2="318.20" stroke="#333" stroke-width="0.6"/>
<text x="301.00" y="319.30" font-size="5.6" fill="#333" stroke="#333" stroke-width="0.1">*</text>
<line x1="292.10" y1="322.10" x2="306.00" y2="322.10" stroke="#333" stroke-width="0.6"/>
<text x="296.40" y="323.20" font-size="5.6" fill="#333" stroke="#333" stroke-width="0.1">****</text>
<line x1="286.90" y1="326.50" x2="306.00" y2="326.50" stroke="#333" stroke-width="0.6"/>
<text x="291.20" y="327.60" font-size="5.6" fill="#333" stroke="#333" stroke-width="0.1">****</text>
<line x1="325.00" y1="317.30" x2="332.00" y2="317.30" stroke="#333" stroke-width="0.6"/>
<text x="325.80" y="316.40" font-size="5.6" fill="#333" stroke="#333" stroke-width="0.1">ns</text>
<line x1="318.00" y1="321.60" x2="332.00" y2="321.60" stroke="#333" stroke-width="0.6"/>
<text x="322.40" y="322.70" font-size="5.6" fill="#333" stroke="#333" stroke-width="0.1">***</text>
<line x1="313.70" y1="326.00" x2="332.00" y2="326.00" stroke="#333" stroke-width="0.6"/>
<text x="317.20" y="327.10" font-size="5.6" fill="#333" stroke="#333" stroke-width="0.1">****</text>
<line x1="344.90" y1="312.50" x2="360.00" y2="312.50" stroke="#333" stroke-width="0.6"/>
<text x="352.70" y="311.60" font-size="5.6" fill="#333" stroke="#333" stroke-width="0.1">ns</text>
<line x1="344.90" y1="317.00" x2="360.00" y2="317.00" stroke="#333" stroke-width="0.6"/>
<text x="349.00" y="318.10" font-size="5.6" fill="#333" stroke="#333" stroke-width="0.1">*</text>
<line x1="344.00" y1="320.80" x2="360.00" y2="320.80" stroke="#333" stroke-width="0.6"/>
<text x="338.00" y="319.90" font-size="5.6" fill="#333" stroke="#333" stroke-width="0.1">ns</text>
<text x="296.50" y="396.00" font-size="6.1" text-anchor="middle" stroke="#231f20" stroke-width="0.1">AML8</text>
<text x="323.10" y="396.00" font-size="6.1" text-anchor="middle" stroke="#231f20" stroke-width="0.1">AML10</text>
<text x="349.70" y="396.00" font-size="6.1" text-anchor="middle" stroke="#231f20" stroke-width="0.1">AML11</text>
<text x="323.10" y="403.60" font-size="6.1" text-anchor="middle" stroke="#231f20" stroke-width="0.1">AF9</text>
<rect x="262.40" y="407.40" width="6.20" height="5.20" fill="#c6c6d0"/>
<text x="271.60" y="412.30" font-size="6.0" fill="#333" stroke="#333" stroke-width="0.1">DMSO</text>
<rect x="304.30" y="407.40" width="6.20" height="5.20" fill="#1b6a45"/>
<text x="313.30" y="412.30" font-size="6.0" fill="#333" stroke="#333" stroke-width="0.1">JPH203</text>
<rect x="262.40" y="418.80" width="6.20" height="5.20" fill="#f6c415"/>
<text x="271.60" y="423.40" font-size="6.0" fill="#333" stroke="#333" stroke-width="0.1">Ven+Aza</text>
<rect x="304.30" y="418.80" width="6.20" height="5.20" fill="#b7c98f"/>
<text x="313.30" y="423.40" font-size="6.0" fill="#333" textLength="48" lengthAdjust="spacingAndGlyphs" stroke="#333" stroke-width="0.1">Ven+Aza+JPH203</text>
<text x="378.80" y="285.70" font-size="12.2" font-weight="bold" fill="#111" stroke="#111" stroke-width="0.1">G</text>
<text x="398.90" y="295.80" font-size="8.2" textLength="87.0" lengthAdjust="spacingAndGlyphs" stroke="#231f20" stroke-width="0.1">Amino Acid Metabolites</text>
<rect x="398.50" y="301.20" width="8.35" height="7.39" fill="#1f4ea0"/>
<rect x="406.80" y="301.20" width="8.35" height="7.39" fill="#d42020"/>
<rect x="415.10" y="301.20" width="8.35" height="7.39" fill="#1f4ea0"/>
<rect x="423.40" y="301.20" width="8.35" height="7.39" fill="#d42020"/>
<text x="434.80" y="306.97" font-size="6.2" fill="#333" stroke="#333" stroke-width="0.1">Serine</text>
<rect x="398.50" y="308.54" width="8.35" height="7.39" fill="#1f4ea0"/>
<rect x="406.80" y="308.54" width="8.35" height="7.39" fill="#d42020"/>
<rect x="415.10" y="308.54" width="8.35" height="7.39" fill="#1f4ea0"/>
<rect x="423.40" y="308.54" width="8.35" height="7.39" fill="#d42020"/>
<text x="434.80" y="314.31" font-size="6.2" fill="#333" stroke="#333" stroke-width="0.1">Glutamine</text>
<rect x="398.50" y="315.88" width="8.35" height="7.39" fill="#1f4ea0"/>
<rect x="406.80" y="315.88" width="8.35" height="7.39" fill="#d42020"/>
<rect x="415.10" y="315.88" width="8.35" height="7.39" fill="#1f4ea0"/>
<rect x="423.40" y="315.88" width="8.35" height="7.39" fill="#d42020"/>
<text x="434.80" y="321.65" font-size="6.2" fill="#333" stroke="#333" stroke-width="0.1">Methionine</text>
<rect x="398.50" y="323.22" width="8.35" height="7.39" fill="#1f4ea0"/>
<rect x="406.80" y="323.22" width="8.35" height="7.39" fill="#e8532c"/>
<rect x="415.10" y="323.22" width="8.35" height="7.39" fill="#1f4ea0"/>
<rect x="423.40" y="323.22" width="8.35" height="7.39" fill="#d42020"/>
<text x="434.80" y="328.99" font-size="6.2" fill="#333" stroke="#333" stroke-width="0.1">Asparagine</text>
<rect x="398.50" y="330.56" width="8.35" height="7.39" fill="#1b3580"/>
<rect x="406.80" y="330.56" width="8.35" height="7.39" fill="#f28a5a"/>
<rect x="415.10" y="330.56" width="8.35" height="7.39" fill="#f28a5a"/>
<rect x="423.40" y="330.56" width="8.35" height="7.39" fill="#d42020"/>
<text x="434.80" y="336.33" font-size="6.2" fill="#333" stroke="#333" stroke-width="0.1">Proline</text>
<rect x="398.50" y="337.90" width="8.35" height="7.39" fill="#1b3580"/>
<rect x="406.80" y="337.90" width="8.35" height="7.39" fill="#dd3322"/>
<rect x="415.10" y="337.90" width="8.35" height="7.39" fill="#6a96d4"/>
<rect x="423.40" y="337.90" width="8.35" height="7.39" fill="#d42020"/>
<text x="434.80" y="343.67" font-size="6.2" fill="#333" stroke="#333" stroke-width="0.1">Threonine</text>
<rect x="398.50" y="345.24" width="8.35" height="7.39" fill="#1b3580"/>
<rect x="406.80" y="345.24" width="8.35" height="7.39" fill="#d42020"/>
<rect x="415.10" y="345.24" width="8.35" height="7.39" fill="#6a96d4"/>
<rect x="423.40" y="345.24" width="8.35" height="7.39" fill="#e8532c"/>
<text x="434.80" y="351.01" font-size="6.2" fill="#333" stroke="#333" stroke-width="0.1">Phenylalanine</text>
<rect x="398.50" y="352.58" width="8.35" height="7.39" fill="#d42020"/>
<rect x="406.80" y="352.58" width="8.35" height="7.39" fill="#bccfe2"/>
<rect x="415.10" y="352.58" width="8.35" height="7.39" fill="#f2e2b4"/>
<rect x="423.40" y="352.58" width="8.35" height="7.39" fill="#1b3580"/>
<text x="434.80" y="358.35" font-size="6.2" fill="#333" stroke="#333" stroke-width="0.1">Leucine</text>
<rect x="398.50" y="359.92" width="8.35" height="7.39" fill="#d42020"/>
<rect x="406.80" y="359.92" width="8.35" height="7.39" fill="#1f4ea0"/>
<rect x="415.10" y="359.92" width="8.35" height="7.39" fill="#d42020"/>
<rect x="423.40" y="359.92" width="8.35" height="7.39" fill="#1f4ea0"/>
<text x="434.80" y="365.69" font-size="6.2" fill="#333" stroke="#333" stroke-width="0.1">Valine</text>
<rect x="398.50" y="367.26" width="8.35" height="7.39" fill="#d42020"/>
<rect x="406.80" y="367.26" width="8.35" height="7.39" fill="#1f4ea0"/>
<rect x="415.10" y="367.26" width="8.35" height="7.39" fill="#d42020"/>
<rect x="423.40" y="367.26" width="8.35" height="7.39" fill="#1f4ea0"/>
<text x="434.80" y="373.03" font-size="6.2" fill="#333" stroke="#333" stroke-width="0.1">Isoleucine</text>
<rect x="398.50" y="374.60" width="8.35" height="7.39" fill="#4a80c8"/>
<rect x="406.80" y="374.60" width="8.35" height="7.39" fill="#86acd8"/>
<rect x="415.10" y="374.60" width="8.35" height="7.39" fill="#c01818"/>
<rect x="423.40" y="374.60" width="8.35" height="7.39" fill="#4a80c8"/>
<text x="434.80" y="380.37" font-size="6.2" fill="#333" stroke="#333" stroke-width="0.1">Glutamic Acid</text>
<rect x="398.50" y="381.94" width="8.35" height="7.39" fill="#bccfe2"/>
<rect x="406.80" y="381.94" width="8.35" height="7.39" fill="#1f4ea0"/>
<rect x="415.10" y="381.94" width="8.35" height="7.39" fill="#c01818"/>
<rect x="423.40" y="381.94" width="8.35" height="7.39" fill="#4a80c8"/>
<text x="434.80" y="387.71" font-size="6.2" fill="#333" stroke="#333" stroke-width="0.1">Lysine</text>
<rect x="398.50" y="389.28" width="8.35" height="7.39" fill="#6a96d4"/>
<rect x="406.80" y="389.28" width="8.35" height="7.39" fill="#4a80c8"/>
<rect x="415.10" y="389.28" width="8.35" height="7.39" fill="#c01818"/>
<rect x="423.40" y="389.28" width="8.35" height="7.39" fill="#4a80c8"/>
<text x="434.80" y="395.05" font-size="6.2" fill="#333" stroke="#333" stroke-width="0.1">Cystine</text>
<rect x="398.50" y="396.62" width="8.35" height="7.39" fill="#1f4ea0"/>
<rect x="406.80" y="396.62" width="8.35" height="7.39" fill="#1f4ea0"/>
<rect x="415.10" y="396.62" width="8.35" height="7.39" fill="#d42020"/>
<rect x="423.40" y="396.62" width="8.35" height="7.39" fill="#c01818"/>
<text x="434.80" y="402.39" font-size="6.2" fill="#333" stroke="#333" stroke-width="0.1">Arginine</text>
<rect x="398.50" y="403.96" width="8.35" height="7.39" fill="#1f4ea0"/>
<rect x="406.80" y="403.96" width="8.35" height="7.39" fill="#86acd8"/>
<rect x="415.10" y="403.96" width="8.35" height="7.39" fill="#f28a5a"/>
<rect x="423.40" y="403.96" width="8.35" height="7.39" fill="#c01818"/>
<text x="434.80" y="409.73" font-size="6.2" fill="#333" stroke="#333" stroke-width="0.1">Tyrosine</text>
<text x="427.55" y="329.29" font-size="5.0" text-anchor="middle" fill="#fff">**</text>
<text x="419.25" y="336.63" font-size="5.0" text-anchor="middle" fill="#fff">**</text>
<text x="427.55" y="358.65" font-size="5.0" text-anchor="middle" fill="#fff">*</text>
<text x="410.95" y="365.99" font-size="5.0" text-anchor="middle" fill="#fff">**</text>
<text x="410.95" y="373.33" font-size="5.0" text-anchor="middle" fill="#fff">*</text>
<text x="427.55" y="373.33" font-size="5.0" text-anchor="middle" fill="#fff">*</text>
<path d="M398 304.6 H395.5 V308 H398 M398 311.5 H395.5 M395.5 308 V316 H398 M398 319 H394 V324 H398 M398 326.6 H393.3 M395.5 312 H392 V326 H394 M398 334 H396 V345 H398 M392 319 H390.5 V338 H396 M398 356.5 H396.5 V363 H398 M398 370.5 H395 V378 H398 M398 385.5 H396 V393 H398 M398 400.5 H395.5 V407.5 H398 M396.5 360 H392 V381 H395 M396 389 H393.5 V404 H395.5 M392 370 H390 V397 H393.5 M390.5 330 H389 V383 H390" fill="none" stroke="#9a9a9a" stroke-width="0.4"/>
<text x="405.85" y="418.00" font-size="6.6" text-anchor="end" fill="#333" stroke="#333" stroke-width="0.1" transform="rotate(-45 405.85 418.00)">DMSO</text>
<text x="414.15" y="418.00" font-size="6.6" text-anchor="end" fill="#333" stroke="#333" stroke-width="0.1" transform="rotate(-45 414.15 418.00)">JPH203</text>
<text x="422.45" y="418.00" font-size="6.6" text-anchor="end" fill="#333" stroke="#333" stroke-width="0.1" transform="rotate(-45 422.45 418.00)">Ven+Aza</text>
<text x="430.75" y="418.00" font-size="6.6" text-anchor="end" fill="#333" stroke="#333" stroke-width="0.1" transform="rotate(-45 430.75 418.00)">Ven+Aza</text>
<text x="435.95" y="423.20" font-size="6.6" text-anchor="end" fill="#333" stroke="#333" stroke-width="0.1" transform="rotate(-45 435.95 423.20)">+JPH203</text>
<defs><linearGradient id="cb" x1="0" y1="0" x2="0" y2="1"><stop offset="0" stop-color="#a50f1e"/><stop offset="0.3" stop-color="#d42a24"/><stop offset="0.43" stop-color="#f08a40"/><stop offset="0.5" stop-color="#fbeec0"/><stop offset="0.58" stop-color="#8fb4dc"/><stop offset="0.7" stop-color="#2f5fb0"/><stop offset="1" stop-color="#14246a"/></linearGradient></defs>
<rect x="483.40" y="316.50" width="6.70" height="30.70" fill="url(#cb)"/>
<text x="492.60" y="321.60" font-size="5.9" fill="#333" stroke="#333" stroke-width="0.1">1</text>
<text x="492.60" y="328.60" font-size="5.9" fill="#333" stroke="#333" stroke-width="0.1">0.5</text>
<text x="492.60" y="334.10" font-size="5.9" fill="#333" stroke="#333" stroke-width="0.1">0</text>
<text x="492.60" y="339.80" font-size="5.9" fill="#333" stroke="#333" stroke-width="0.1">−0.5</text>
<text x="492.60" y="345.40" font-size="5.9" fill="#333" stroke="#333" stroke-width="0.1">−1</text>
<text x="475.00" y="333.00" font-size="6.6" text-anchor="middle" fill="#333" textLength="21.7" lengthAdjust="spacingAndGlyphs" stroke="#333" stroke-width="0.1" transform="rotate(90 475.00 333.00)">Z Score</text>
<text x="9.60" y="456.40" font-size="12.2" font-weight="bold" fill="#111" stroke="#111" stroke-width="0.1">H</text>
<text x="202.20" y="457.30" font-size="8.4" textLength="135.0" lengthAdjust="spacingAndGlyphs" stroke="#231f20" stroke-width="0.1">GSEA of LSC/Prognostic Signatures</text>
<text x="155.60" y="470.30" font-size="8.4" text-anchor="middle" textLength="66.8" lengthAdjust="spacingAndGlyphs" stroke="#231f20" stroke-width="0.1">JPH203 v. DMSO</text>
<line x1="109.00" y1="475.50" x2="109.00" y2="538.10" stroke="#1a1a1a" stroke-width="1.1"/>
<line x1="109.00" y1="538.10" x2="206.80" y2="538.10" stroke="#1a1a1a" stroke-width="1.1"/>
<line x1="106.60" y1="487.10" x2="109.00" y2="487.10" stroke="#231f20" stroke-width="0.7"/>
<text x="103.60" y="489.50" font-size="6.5" text-anchor="end" fill="#333" textLength="80.7" lengthAdjust="spacingAndGlyphs" stroke="#333" stroke-width="0.1">GOOD_PROGNOSIS_AML</text>
<line x1="106.60" y1="500.20" x2="109.00" y2="500.20" stroke="#231f20" stroke-width="0.7"/>
<text x="103.60" y="502.60" font-size="6.5" text-anchor="end" fill="#333" textLength="85.3" lengthAdjust="spacingAndGlyphs" stroke="#333" stroke-width="0.1">SOMERVAILLE_AML_DOWN</text>
<line x1="106.60" y1="512.70" x2="109.00" y2="512.70" stroke="#231f20" stroke-width="0.7"/>
<text x="103.60" y="515.10" font-size="6.5" text-anchor="end" fill="#333" textLength="53.2" lengthAdjust="spacingAndGlyphs" stroke="#333" stroke-width="0.1">GAL_LSC_DOWN</text>
<line x1="106.60" y1="525.20" x2="109.00" y2="525.20" stroke="#231f20" stroke-width="0.7"/>
<text x="103.60" y="527.60" font-size="6.5" text-anchor="end" fill="#333" textLength="53.2" lengthAdjust="spacingAndGlyphs" stroke="#333" stroke-width="0.1">EPPERT_LSC_UP</text>
<line x1="112.70" y1="538.10" x2="112.70" y2="540.10" stroke="#231f20" stroke-width="0.7"/>
<text x="112.70" y="549.50" font-size="6.2" text-anchor="middle" fill="#333" stroke="#333" stroke-width="0.1">0.8</text>
<line x1="135.50" y1="538.10" x2="135.50" y2="540.10" stroke="#231f20" stroke-width="0.7"/>
<text x="135.50" y="549.50" font-size="6.2" text-anchor="middle" fill="#333" stroke="#333" stroke-width="0.1">1.0</text>
<line x1="159.20" y1="538.10" x2="159.20" y2="540.10" stroke="#231f20" stroke-width="0.7"/>
<text x="159.20" y="549.50" font-size="6.2" text-anchor="middle" fill="#333" stroke="#333" stroke-width="0.1">1.2</text>
<line x1="182.50" y1="538.10" x2="182.50" y2="540.10" stroke="#231f20" stroke-width="0.7"/>
<text x="182.50" y="549.50" font-size="6.2" text-anchor="middle" fill="#333" stroke="#333" stroke-width="0.1">1.4</text>
<text x="155.80" y="561.40" font-size="8.4" text-anchor="middle" fill="#2a2a2a" textLength="11.2" lengthAdjust="spacingAndGlyphs" stroke="#2a2a2a" stroke-width="0.1">NES</text>
<path d="M198.50 482.70L203.10 487.30L198.50 491.90L193.90 487.30Z" fill="#17684a"/>
<path d="M159.00 495.20L163.40 499.60L159.00 504.00L154.60 499.60Z" fill="#17684a"/>
<path d="M153.80 508.30L158.30 512.80L153.80 517.30L149.30 512.80Z" fill="#17684a"/>
<path d="M112.90 524.20L114.10 525.40L112.90 526.60L111.70 525.40Z" fill="#17684a"/>
<text x="215.40" y="477.40" font-size="5.7" fill="#333" stroke="#333" stroke-width="0.1">Padj</text>
<path d="M210.80 481.50L215.10 485.80L210.80 490.10L206.50 485.80Z" fill="#414a5c"/>
<text x="217.00" y="487.90" font-size="5.9" fill="#333" stroke="#333" stroke-width="0.1">0.2</text>
<path d="M210.80 491.10L214.70 495.00L210.80 498.90L206.90 495.00Z" fill="#414a5c"/>
<text x="217.00" y="497.10" font-size="5.9" fill="#333" stroke="#333" stroke-width="0.1">0.3</text>
<path d="M210.80 500.70L214.30 504.20L210.80 507.70L207.30 504.20Z" fill="#414a5c"/>
<text x="217.00" y="506.30" font-size="5.9" fill="#333" stroke="#333" stroke-width="0.1">0.4</text>
<path d="M210.80 510.40L213.90 513.50L210.80 516.60L207.70 513.50Z" fill="#414a5c"/>
<text x="217.00" y="515.60" font-size="5.9" fill="#333" stroke="#333" stroke-width="0.1">0.5</text>
<path d="M210.80 520.20L213.30 522.70L210.80 525.20L208.30 522.70Z" fill="#414a5c"/>
<text x="217.00" y="524.80" font-size="5.9" fill="#333" stroke="#333" stroke-width="0.1">0.6</text>
<path d="M210.80 530.40L212.60 532.20L210.80 534.00L209.00 532.20Z" fill="#414a5c"/>
<text x="217.00" y="534.30" font-size="5.9" fill="#333" stroke="#333" stroke-width="0.1">0.7</text>
<path d="M210.80 536.80L214.20 540.20L210.80 543.60L207.40 540.20Z" fill="#17684a"/>
<text x="217.00" y="542.30" font-size="5.75" fill="#333" stroke="#333" stroke-width="0.1">UP in JPH203</text>
<path d="M210.80 545.60L214.20 549.00L210.80 552.40L207.40 549.00Z" fill="#c8c8c8"/>
<text x="217.00" y="551.10" font-size="5.75" fill="#333" stroke="#333" stroke-width="0.1">DOWN in JPH203</text>
<text x="404.70" y="473.00" font-size="8.4" text-anchor="middle" textLength="68.0" lengthAdjust="spacingAndGlyphs" stroke="#231f20" stroke-width="0.1">Ven+Aza v. DMSO</text>
<line x1="358.30" y1="480.00" x2="358.30" y2="538.10" stroke="#1a1a1a" stroke-width="1.1"/>
<line x1="358.30" y1="538.10" x2="451.70" y2="538.10" stroke="#1a1a1a" stroke-width="1.1"/>
<line x1="355.90" y1="490.00" x2="358.30" y2="490.00" stroke="#231f20" stroke-width="0.7"/>
<text x="352.90" y="492.40" font-size="6.5" text-anchor="end" fill="#333" textLength="52.3" lengthAdjust="spacingAndGlyphs" stroke="#333" stroke-width="0.1">GAL_LSC_DOWN</text>
<line x1="355.90" y1="501.90" x2="358.30" y2="501.90" stroke="#231f20" stroke-width="0.7"/>
<text x="352.90" y="504.30" font-size="6.5" text-anchor="end" fill="#333" textLength="79.6" lengthAdjust="spacingAndGlyphs" stroke="#333" stroke-width="0.1">GOOD_PROGNOSIS_AML</text>
<line x1="355.90" y1="513.50" x2="358.30" y2="513.50" stroke="#231f20" stroke-width="0.7"/>
<text x="352.90" y="515.90" font-size="6.5" text-anchor="end" fill="#333" textLength="51.9" lengthAdjust="spacingAndGlyphs" stroke="#333" stroke-width="0.1">EPPERT_LSC_UP</text>
<line x1="355.90" y1="525.20" x2="358.30" y2="525.20" stroke="#231f20" stroke-width="0.7"/>
<text x="352.90" y="527.60" font-size="6.5" text-anchor="end" fill="#333" textLength="84.0" lengthAdjust="spacingAndGlyphs" stroke="#333" stroke-width="0.1">SOMERVAILLE_AML_DOWN</text>
<line x1="369.20" y1="538.10" x2="369.20" y2="540.10" stroke="#231f20" stroke-width="0.7"/>
<text x="369.20" y="549.50" font-size="6.2" text-anchor="middle" fill="#333" stroke="#333" stroke-width="0.1">−0.5</text>
<line x1="391.30" y1="538.10" x2="391.30" y2="540.10" stroke="#231f20" stroke-width="0.7"/>
<text x="391.30" y="549.50" font-size="6.2" text-anchor="middle" fill="#333" stroke="#333" stroke-width="0.1">0.0</text>
<line x1="413.50" y1="538.10" x2="413.50" y2="540.10" stroke="#231f20" stroke-width="0.7"/>
<text x="413.50" y="549.50" font-size="6.2" text-anchor="middle" fill="#333" stroke="#333" stroke-width="0.1">0.5</text>
<line x1="434.60" y1="538.10" x2="434.60" y2="540.10" stroke="#231f20" stroke-width="0.7"/>
<text x="434.60" y="549.50" font-size="6.2" text-anchor="middle" fill="#333" stroke="#333" stroke-width="0.1">1.0</text>
<text x="405.40" y="561.90" font-size="8.4" text-anchor="middle" fill="#2a2a2a" textLength="11.2" lengthAdjust="spacingAndGlyphs" stroke="#2a2a2a" stroke-width="0.1">NES</text>
<path d="M447.30 485.90L451.60 490.20L447.30 494.50L443.00 490.20Z" fill="#f0c020" stroke="#7a5a10" stroke-width="0.5"/>
<path d="M444.60 497.40L448.90 501.70L444.60 506.00L440.30 501.70Z" fill="#f0c020" stroke="#7a5a10" stroke-width="0.5"/>
<path d="M425.80 512.00L427.60 513.80L425.80 515.60L424.00 513.80Z" fill="#a09060" stroke="#6a5a20" stroke-width="0.5"/>
<path d="M362.10 523.40L363.80 525.10L362.10 526.80L360.40 525.10Z" fill="#d8b840" stroke="#6a5a20" stroke-width="0.5"/>
<text x="464.60" y="480.60" font-size="5.7" fill="#333" stroke="#333" stroke-width="0.1">Padj</text>
<path d="M460.00 485.80L463.80 489.60L460.00 493.40L456.20 489.60Z" fill="#414a5c"/>
<text x="466.20" y="491.70" font-size="5.9" fill="#333" stroke="#333" stroke-width="0.1">0.4</text>
<path d="M460.00 495.20L463.30 498.50L460.00 501.80L456.70 498.50Z" fill="#414a5c"/>
<text x="466.20" y="500.60" font-size="5.9" fill="#333" stroke="#333" stroke-width="0.1">0.6</text>
<path d="M460.00 504.80L462.70 507.50L460.00 510.20L457.30 507.50Z" fill="#414a5c"/>
<text x="466.20" y="509.60" font-size="5.9" fill="#333" stroke="#333" stroke-width="0.1">0.8</text>
<path d="M460.00 515.30L460.90 516.20L460.00 517.10L459.10 516.20Z" fill="#414a5c"/>
<text x="466.20" y="518.30" font-size="5.9" fill="#333" stroke="#333" stroke-width="0.1">1.0</text>
<path d="M460.00 521.40L463.40 524.80L460.00 528.20L456.60 524.80Z" fill="#f0c020" stroke="#7a5a10" stroke-width="0.4"/>
<text x="466.20" y="526.90" font-size="5.75" fill="#333" stroke="#333" stroke-width="0.1">UP in Ven+Aza</text>
<path d="M460.00 530.10L463.40 533.50L460.00 536.90L456.60 533.50Z" fill="#c8c8c8"/>
<text x="466.20" y="535.60" font-size="5.75" fill="#333" stroke="#333" stroke-width="0.1">DOWN in Ven+Aza</text>
<text x="263.40" y="574.00" font-size="8.4" text-anchor="middle" textLength="104.2" lengthAdjust="spacingAndGlyphs" stroke="#231f20" stroke-width="0.1">Ven+Aza+JPH203 v. DMSO</text>
<line x1="215.40" y1="584.50" x2="215.40" y2="641.10" stroke="#1a1a1a" stroke-width="1.1"/>
<line x1="215.40" y1="641.10" x2="310.10" y2="641.10" stroke="#1a1a1a" stroke-width="1.1"/>
<line x1="213.00" y1="591.10" x2="215.40" y2="591.10" stroke="#231f20" stroke-width="0.7"/>
<text x="210.00" y="593.50" font-size="6.5" text-anchor="end" fill="#333" textLength="79.8" lengthAdjust="spacingAndGlyphs" stroke="#333" stroke-width="0.1">GOOD_PROGNOSIS_AML</text>
<line x1="213.00" y1="603.60" x2="215.40" y2="603.60" stroke="#231f20" stroke-width="0.7"/>
<text x="210.00" y="606.00" font-size="6.5" text-anchor="end" fill="#333" textLength="83.6" lengthAdjust="spacingAndGlyphs" stroke="#333" stroke-width="0.1">SOMERVAILLE_AML_DOWN</text>
<line x1="213.00" y1="615.70" x2="215.40" y2="615.70" stroke="#231f20" stroke-width="0.7"/>
<text x="210.00" y="618.10" font-size="6.5" text-anchor="end" fill="#333" textLength="51.9" lengthAdjust="spacingAndGlyphs" stroke="#333" stroke-width="0.1">GAL_LSC_DOWN</text>
<line x1="213.00" y1="628.00" x2="215.40" y2="628.00" stroke="#231f20" stroke-width="0.7"/>
<text x="210.00" y="630.40" font-size="6.5" text-anchor="end" fill="#333" textLength="51.9" lengthAdjust="spacingAndGlyphs" stroke="#333" stroke-width="0.1">EPPERT_LSC_UP</text>
<line x1="236.20" y1="641.10" x2="236.20" y2="643.10" stroke="#231f20" stroke-width="0.7"/>
<text x="236.20" y="652.50" font-size="6.2" text-anchor="middle" fill="#333" stroke="#333" stroke-width="0.1">−1</text>
<line x1="260.40" y1="641.10" x2="260.40" y2="643.10" stroke="#231f20" stroke-width="0.7"/>
<text x="260.40" y="652.50" font-size="6.2" text-anchor="middle" fill="#333" stroke="#333" stroke-width="0.1">0</text>
<line x1="284.70" y1="641.10" x2="284.70" y2="643.10" stroke="#231f20" stroke-width="0.7"/>
<text x="284.70" y="652.50" font-size="6.2" text-anchor="middle" fill="#333" stroke="#333" stroke-width="0.1">1</text>
<line x1="308.90" y1="641.10" x2="308.90" y2="643.10" stroke="#231f20" stroke-width="0.7"/>
<text x="263.00" y="665.20" font-size="8.4" text-anchor="middle" fill="#2a2a2a" textLength="11.2" lengthAdjust="spacingAndGlyphs" stroke="#2a2a2a" stroke-width="0.1">NES</text>
<path d="M306.60 588.10L310.50 592.00L306.60 595.90L302.70 592.00Z" fill="#d2d9bd"/>
<path d="M302.00 600.30L305.90 604.20L302.00 608.10L298.10 604.20Z" fill="#d2d9bd"/>
<path d="M293.90 614.70L294.90 615.70L293.90 616.70L292.90 615.70Z" fill="#e4e8d8"/>
<path d="M220.50 625.90L223.50 628.90L220.50 631.90L217.50 628.90Z" fill="#d4d4d4" stroke="#666" stroke-width="0.5"/>
<text x="327.20" y="582.20" font-size="5.7" fill="#333" stroke="#333" stroke-width="0.1">Padj</text>
<path d="M319.00 587.40L322.80 591.20L319.00 595.00L315.20 591.20Z" fill="#414a5c"/>
<text x="325.20" y="593.30" font-size="5.9" fill="#333" stroke="#333" stroke-width="0.1">0.005</text>
<path d="M319.00 597.40L322.50 600.90L319.00 604.40L315.50 600.90Z" fill="#414a5c"/>
<text x="325.20" y="603.00" font-size="5.9" fill="#333" stroke="#333" stroke-width="0.1">0.010</text>
<path d="M319.00 607.80L322.10 610.90L319.00 614.00L315.90 610.90Z" fill="#414a5c"/>
<text x="325.20" y="613.00" font-size="5.9" fill="#333" stroke="#333" stroke-width="0.1">0.015</text>
<path d="M319.00 618.40L321.40 620.80L319.00 623.20L316.60 620.80Z" fill="#414a5c"/>
<text x="325.20" y="622.90" font-size="5.9" fill="#333" stroke="#333" stroke-width="0.1">0.020</text>
<path d="M319.00 628.20L322.40 631.60L319.00 635.00L315.60 631.60Z" fill="#d2d9bd"/>
<text x="325.20" y="633.70" font-size="5.75" fill="#333" stroke="#333" stroke-width="0.1">UP in Ven+Aza+JPH203</text>
<path d="M319.00 636.90L322.40 640.30L319.00 643.70L315.60 640.30Z" fill="#c8c8c8"/>
<text x="325.20" y="642.40" font-size="5.75" fill="#333" stroke="#333" stroke-width="0.1">DOWN in Ven+Aza+JPH203</text>
</g>
</svg>
</body></html>
